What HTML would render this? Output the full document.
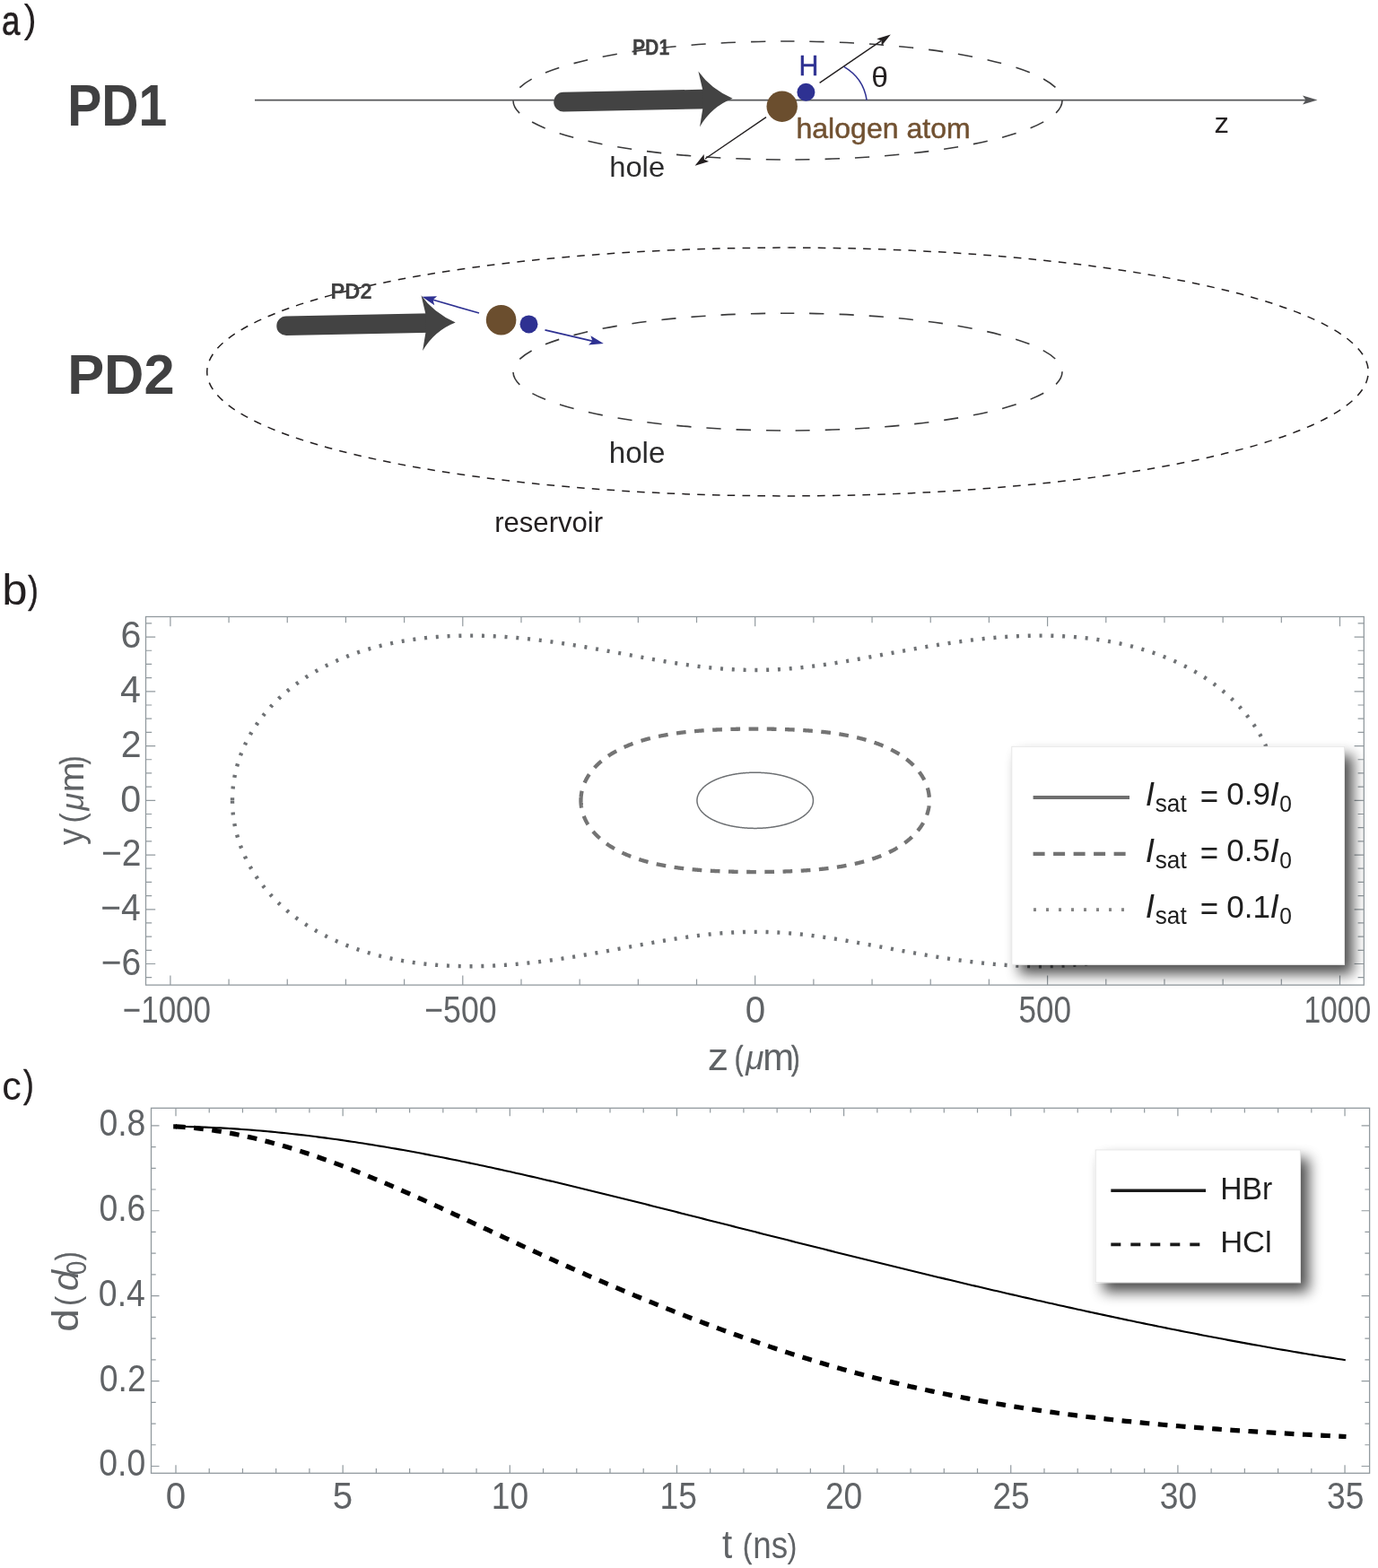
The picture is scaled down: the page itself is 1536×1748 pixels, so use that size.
<!DOCTYPE html>
<html><head><meta charset="utf-8"><title>Figure</title>
<style>html,body{margin:0;padding:0;background:#fff;}body{width:1536px;height:1748px;overflow:hidden;}svg{display:block;font-kerning:none;}text{font-kerning:none;}</style>
</head><body>
<svg width="1536" height="1748" viewBox="0 0 1536 1748" font-family="'Liberation Sans', Arial, sans-serif"><text transform="translate(2.1,39.18) scale(0.7838,1)" font-size="46.58" fill="#231f20" stroke="#231f20" stroke-width="0.7" stroke-linejoin="round">a</text>
<text transform="translate(26.58,35.63) scale(0.9651,1)" font-size="44.18" fill="#231f20">)</text>
<text transform="translate(75.14,139.6) scale(0.8807,1)" font-size="64.87" font-weight="bold" fill="#404041">PD1</text>
<text transform="translate(75.15,438.9) scale(0.9669,1)" font-size="63.51" font-weight="bold" fill="#404041">PD2</text>
<line x1="284" y1="111.6" x2="1458" y2="111.6" stroke="#555658" stroke-width="1.9"/>
<path d="M1468.50,111.40 L1452.00,116.40 L1455.50,111.40 L1452.00,106.40 Z" fill="#555658"/>
<path d="M878,46 A306,66 0 1 1 878,178 A306,66 0 1 1 878,46" fill="none" stroke="#3a3a3b" stroke-width="1.6" stroke-dasharray="16.2 16.9755" stroke-dashoffset="8.5"/>
<g transform="translate(0.00,0.00)" fill="#434343"><line x1="628" y1="113.6" x2="790" y2="110.4" stroke="#434343" stroke-width="21.6" stroke-linecap="round"/><path d="M783.1,99.4 L778.4,79.6 Q792,99 816.6,109.8 Q793,119 780,141.4 L783.3,121.3 Z"/></g>
<line x1="913.6" y1="92.3" x2="982" y2="45.7" stroke="#231f20" stroke-width="1.4"/>
<path d="M992.80,38.40 L982.69,51.09 L982.47,45.44 L977.29,43.16 Z" fill="#231f20"/>
<line x1="854" y1="130.6" x2="786" y2="177.0" stroke="#231f20" stroke-width="1.4"/>
<path d="M774.60,184.80 L784.69,172.09 L784.92,177.75 L790.11,180.02 Z" fill="#231f20"/>
<circle cx="871.7" cy="118.7" r="17.2" fill="#6b4e2e"/>
<circle cx="898.4" cy="102.8" r="10" fill="#2e3192"/>
<path d="M940.7,74.3 Q962.5,87 966.1,111.6" fill="none" stroke="#2e3192" stroke-width="1.5"/>
<text transform="translate(704.92,60.65) scale(0.8693,1)" font-size="24.44" font-weight="bold" fill="#404041" stroke="#404041" stroke-width="0.3" stroke-linejoin="round">PD1</text>
<text transform="translate(890.55,83.95) scale(0.9516,1)" font-size="31.85" fill="#2e3192" stroke="#2e3192" stroke-width="0.5" stroke-linejoin="round">H</text>
<text transform="translate(971.14,97.39) scale(1.0829,1)" font-size="31.02" fill="#231f20">θ</text>
<text transform="translate(887.38,153.7) scale(1.0446,1)" font-size="30.72" fill="#715131" stroke="#715131" stroke-width="0.45" stroke-linejoin="round">halogen atom</text>
<text transform="translate(1353.38,148) scale(1.0656,1)" font-size="30.90" fill="#231f20">z</text>
<text transform="translate(679.21,196.68) scale(1.0241,1)" font-size="31.97" fill="#2b2b2c">hole</text>
<path d="M878,276.1 A647,138.4 0 1 1 878,552.9 A647,138.4 0 1 1 878,276.1" fill="none" stroke="#231f20" stroke-width="1.5" stroke-dasharray="8.6 8.1713" stroke-dashoffset="-0.4"/>
<path d="M878,349.20000000000005 A306,65.4 0 1 1 878,480.0 A306,65.4 0 1 1 878,349.20000000000005" fill="none" stroke="#3a3a3b" stroke-width="1.6" stroke-dasharray="16.2 16.9493" stroke-dashoffset="8.7"/>
<g transform="translate(-308.90,249.60)" fill="#434343"><line x1="628" y1="113.6" x2="790" y2="110.4" stroke="#434343" stroke-width="21.6" stroke-linecap="round"/><path d="M783.1,99.4 L778.4,79.6 Q792,99 816.6,109.8 Q793,119 780,141.4 L783.3,121.3 Z"/></g>
<line x1="534" y1="349" x2="481" y2="333.8" stroke="#2e3192" stroke-width="1.7"/>
<path d="M470.30,330.80 L487.11,330.22 L482.60,334.34 L484.24,340.22 Z" fill="#2e3192"/>
<line x1="607.5" y1="367.8" x2="661" y2="380.4" stroke="#2e3192" stroke-width="1.7"/>
<path d="M672.80,383.10 L656.03,384.50 L660.34,380.17 L658.42,374.37 Z" fill="#2e3192"/>
<circle cx="558.6" cy="356.7" r="16.8" fill="#6b4e2e"/>
<circle cx="589.5" cy="361.4" r="10" fill="#2e3192"/>
<text transform="translate(368.4,332.8) scale(0.9642,1)" font-size="24.66" font-weight="bold" fill="#404041">PD2</text>
<text transform="translate(678.68,515.67) scale(1.0165,1)" font-size="32.65" fill="#2b2b2c">hole</text>
<text transform="translate(551.18,593) scale(1.0205,1)" font-size="30.48" fill="#231f20">reservoir</text>
<text transform="translate(2.19,674.33) scale(1.0717,1)" font-size="47.48" fill="#231f20">b</text>
<text transform="translate(31.29,671.8) scale(0.7961,1)" font-size="42.90" fill="#231f20" stroke="#231f20" stroke-width="0.6" stroke-linejoin="round">)</text>
<path d="M776.95,892.30 L776.96,892.05 L776.96,891.80 L776.97,891.55 L776.99,891.29 L777.00,891.04 L777.03,890.79 L777.05,890.54 L777.08,890.29 L777.12,890.04 L777.16,889.79 L777.20,889.54 L777.24,889.29 L777.29,889.04 L777.35,888.79 L777.41,888.54 L777.47,888.29 L777.53,888.04 L777.60,887.79 L777.68,887.54 L777.76,887.30 L777.84,887.05 L777.92,886.80 L778.01,886.55 L778.11,886.31 L778.20,886.06 L778.31,885.82 L778.41,885.57 L778.52,885.33 L778.64,885.08 L778.75,884.84 L778.87,884.60 L779.00,884.35 L779.13,884.11 L779.26,883.87 L779.40,883.63 L779.54,883.39 L779.68,883.15 L779.83,882.91 L779.98,882.67 L780.14,882.43 L780.30,882.20 L780.46,881.96 L780.63,881.73 L780.80,881.49 L780.98,881.26 L781.15,881.02 L781.34,880.79 L781.52,880.56 L781.71,880.33 L781.91,880.10 L782.10,879.87 L782.31,879.64 L782.51,879.41 L782.72,879.19 L782.93,878.96 L783.15,878.74 L783.37,878.51 L783.59,878.29 L783.82,878.07 L784.05,877.85 L784.28,877.63 L784.52,877.41 L784.76,877.19 L785.00,876.98 L785.25,876.76 L785.50,876.54 L785.76,876.33 L786.02,876.12 L786.28,875.91 L786.54,875.70 L786.81,875.49 L787.08,875.28 L787.36,875.07 L787.64,874.87 L787.92,874.66 L788.20,874.46 L788.49,874.26 L788.79,874.06 L789.08,873.86 L789.38,873.66 L789.68,873.46 L789.99,873.27 L790.30,873.07 L790.61,872.88 L790.92,872.69 L791.24,872.50 L791.56,872.31 L791.88,872.12 L792.21,871.93 L792.54,871.75 L792.88,871.56 L793.21,871.38 L793.55,871.20 L793.89,871.02 L794.24,870.84 L794.59,870.66 L794.94,870.49 L795.29,870.31 L795.65,870.14 L796.01,869.97 L796.37,869.80 L796.74,869.63 L797.10,869.47 L797.48,869.30 L797.85,869.14 L798.23,868.98 L798.60,868.81 L798.99,868.66 L799.37,868.50 L799.76,868.34 L800.15,868.19 L800.54,868.03 L800.93,867.88 L801.33,867.73 L801.73,867.58 L802.13,867.44 L802.54,867.29 L802.95,867.15 L803.36,867.01 L803.77,866.87 L804.18,866.73 L804.60,866.59 L805.02,866.45 L805.44,866.32 L805.86,866.19 L806.29,866.06 L806.72,865.93 L807.15,865.80 L807.58,865.67 L808.01,865.55 L808.45,865.43 L808.89,865.31 L809.33,865.19 L809.77,865.07 L810.21,864.96 L810.66,864.84 L811.11,864.73 L811.56,864.62 L812.01,864.51 L812.47,864.40 L812.92,864.30 L813.38,864.19 L813.84,864.09 L814.30,863.99 L814.76,863.89 L815.23,863.80 L815.69,863.70 L816.16,863.61 L816.63,863.52 L817.10,863.43 L817.57,863.34 L818.05,863.25 L818.52,863.17 L819.00,863.08 L819.48,863.00 L819.96,862.92 L820.44,862.85 L820.92,862.77 L821.40,862.70 L821.89,862.62 L822.37,862.55 L822.86,862.49 L823.35,862.42 L823.84,862.35 L824.33,862.29 L824.82,862.23 L825.31,862.17 L825.81,862.11 L826.30,862.06 L826.80,862.00 L827.29,861.95 L827.79,861.90 L828.29,861.85 L828.79,861.80 L829.29,861.76 L829.79,861.71 L830.29,861.67 L830.79,861.63 L831.29,861.59 L831.80,861.56 L832.30,861.52 L832.81,861.49 L833.31,861.46 L833.82,861.43 L834.32,861.40 L834.83,861.38 L835.34,861.35 L835.85,861.33 L836.35,861.31 L836.86,861.29 L837.37,861.28 L837.88,861.26 L838.39,861.25 L838.90,861.24 L839.41,861.23 L839.92,861.22 L840.43,861.22 L840.94,861.21 L841.45,861.21 L841.95,861.21 L842.46,861.21 L842.97,861.22 L843.48,861.22 L843.99,861.23 L844.50,861.24 L845.01,861.25 L845.52,861.26 L846.03,861.28 L846.54,861.29 L847.05,861.31 L847.55,861.33 L848.06,861.35 L848.57,861.38 L849.08,861.40 L849.58,861.43 L850.09,861.46 L850.59,861.49 L851.10,861.52 L851.60,861.56 L852.11,861.59 L852.61,861.63 L853.11,861.67 L853.61,861.71 L854.11,861.76 L854.61,861.80 L855.11,861.85 L855.61,861.90 L856.11,861.95 L856.60,862.00 L857.10,862.06 L857.59,862.11 L858.09,862.17 L858.58,862.23 L859.07,862.29 L859.56,862.35 L860.05,862.42 L860.54,862.49 L861.03,862.55 L861.51,862.62 L862.00,862.70 L862.48,862.77 L862.96,862.85 L863.44,862.92 L863.92,863.00 L864.40,863.08 L864.88,863.17 L865.35,863.25 L865.83,863.34 L866.30,863.43 L866.77,863.52 L867.24,863.61 L867.71,863.70 L868.17,863.80 L868.64,863.89 L869.10,863.99 L869.56,864.09 L870.02,864.19 L870.48,864.30 L870.93,864.40 L871.39,864.51 L871.84,864.62 L872.29,864.73 L872.74,864.84 L873.19,864.96 L873.63,865.07 L874.07,865.19 L874.51,865.31 L874.95,865.43 L875.39,865.55 L875.82,865.67 L876.25,865.80 L876.68,865.93 L877.11,866.06 L877.54,866.19 L877.96,866.32 L878.38,866.45 L878.80,866.59 L879.22,866.73 L879.63,866.87 L880.04,867.01 L880.45,867.15 L880.86,867.29 L881.27,867.44 L881.67,867.58 L882.07,867.73 L882.47,867.88 L882.86,868.03 L883.25,868.19 L883.64,868.34 L884.03,868.50 L884.41,868.66 L884.80,868.81 L885.17,868.98 L885.55,869.14 L885.92,869.30 L886.30,869.47 L886.66,869.63 L887.03,869.80 L887.39,869.97 L887.75,870.14 L888.11,870.31 L888.46,870.49 L888.81,870.66 L889.16,870.84 L889.51,871.02 L889.85,871.20 L890.19,871.38 L890.52,871.56 L890.86,871.75 L891.19,871.93 L891.52,872.12 L891.84,872.31 L892.16,872.50 L892.48,872.69 L892.79,872.88 L893.10,873.07 L893.41,873.27 L893.72,873.46 L894.02,873.66 L894.32,873.86 L894.61,874.06 L894.91,874.26 L895.20,874.46 L895.48,874.66 L895.76,874.87 L896.04,875.07 L896.32,875.28 L896.59,875.49 L896.86,875.70 L897.12,875.91 L897.38,876.12 L897.64,876.33 L897.90,876.54 L898.15,876.76 L898.40,876.98 L898.64,877.19 L898.88,877.41 L899.12,877.63 L899.35,877.85 L899.58,878.07 L899.81,878.29 L900.03,878.51 L900.25,878.74 L900.47,878.96 L900.68,879.19 L900.89,879.41 L901.09,879.64 L901.30,879.87 L901.49,880.10 L901.69,880.33 L901.88,880.56 L902.06,880.79 L902.25,881.02 L902.42,881.26 L902.60,881.49 L902.77,881.73 L902.94,881.96 L903.10,882.20 L903.26,882.43 L903.42,882.67 L903.57,882.91 L903.72,883.15 L903.86,883.39 L904.00,883.63 L904.14,883.87 L904.27,884.11 L904.40,884.35 L904.53,884.60 L904.65,884.84 L904.76,885.08 L904.88,885.33 L904.99,885.57 L905.09,885.82 L905.20,886.06 L905.29,886.31 L905.39,886.55 L905.48,886.80 L905.56,887.05 L905.64,887.30 L905.72,887.54 L905.80,887.79 L905.87,888.04 L905.93,888.29 L905.99,888.54 L906.05,888.79 L906.11,889.04 L906.16,889.29 L906.20,889.54 L906.24,889.79 L906.28,890.04 L906.32,890.29 L906.35,890.54 L906.37,890.79 L906.40,891.04 L906.41,891.29 L906.43,891.55 L906.44,891.80 L906.44,892.05 L906.45,892.30 L906.44,892.55 L906.44,892.80 L906.43,893.05 L906.41,893.31 L906.40,893.56 L906.37,893.81 L906.35,894.06 L906.32,894.31 L906.28,894.56 L906.24,894.81 L906.20,895.06 L906.16,895.31 L906.11,895.56 L906.05,895.81 L905.99,896.06 L905.93,896.31 L905.87,896.56 L905.80,896.81 L905.72,897.06 L905.64,897.30 L905.56,897.55 L905.48,897.80 L905.39,898.05 L905.29,898.29 L905.20,898.54 L905.09,898.78 L904.99,899.03 L904.88,899.27 L904.76,899.52 L904.65,899.76 L904.53,900.00 L904.40,900.25 L904.27,900.49 L904.14,900.73 L904.00,900.97 L903.86,901.21 L903.72,901.45 L903.57,901.69 L903.42,901.93 L903.26,902.17 L903.10,902.40 L902.94,902.64 L902.77,902.87 L902.60,903.11 L902.42,903.34 L902.25,903.58 L902.06,903.81 L901.88,904.04 L901.69,904.27 L901.49,904.50 L901.30,904.73 L901.09,904.96 L900.89,905.19 L900.68,905.41 L900.47,905.64 L900.25,905.86 L900.03,906.09 L899.81,906.31 L899.58,906.53 L899.35,906.75 L899.12,906.97 L898.88,907.19 L898.64,907.41 L898.40,907.62 L898.15,907.84 L897.90,908.06 L897.64,908.27 L897.38,908.48 L897.12,908.69 L896.86,908.90 L896.59,909.11 L896.32,909.32 L896.04,909.53 L895.76,909.73 L895.48,909.94 L895.20,910.14 L894.91,910.34 L894.61,910.54 L894.32,910.74 L894.02,910.94 L893.72,911.14 L893.41,911.33 L893.10,911.53 L892.79,911.72 L892.48,911.91 L892.16,912.10 L891.84,912.29 L891.52,912.48 L891.19,912.67 L890.86,912.85 L890.52,913.04 L890.19,913.22 L889.85,913.40 L889.51,913.58 L889.16,913.76 L888.81,913.94 L888.46,914.11 L888.11,914.29 L887.75,914.46 L887.39,914.63 L887.03,914.80 L886.66,914.97 L886.30,915.13 L885.92,915.30 L885.55,915.46 L885.17,915.62 L884.80,915.79 L884.41,915.94 L884.03,916.10 L883.64,916.26 L883.25,916.41 L882.86,916.57 L882.47,916.72 L882.07,916.87 L881.67,917.02 L881.27,917.16 L880.86,917.31 L880.45,917.45 L880.04,917.59 L879.63,917.73 L879.22,917.87 L878.80,918.01 L878.38,918.15 L877.96,918.28 L877.54,918.41 L877.11,918.54 L876.68,918.67 L876.25,918.80 L875.82,918.93 L875.39,919.05 L874.95,919.17 L874.51,919.29 L874.07,919.41 L873.63,919.53 L873.19,919.64 L872.74,919.76 L872.29,919.87 L871.84,919.98 L871.39,920.09 L870.93,920.20 L870.48,920.30 L870.02,920.41 L869.56,920.51 L869.10,920.61 L868.64,920.71 L868.17,920.80 L867.71,920.90 L867.24,920.99 L866.77,921.08 L866.30,921.17 L865.83,921.26 L865.35,921.35 L864.88,921.43 L864.40,921.52 L863.92,921.60 L863.44,921.68 L862.96,921.75 L862.48,921.83 L862.00,921.90 L861.51,921.98 L861.03,922.05 L860.54,922.11 L860.05,922.18 L859.56,922.25 L859.07,922.31 L858.58,922.37 L858.09,922.43 L857.59,922.49 L857.10,922.54 L856.60,922.60 L856.11,922.65 L855.61,922.70 L855.11,922.75 L854.61,922.80 L854.11,922.84 L853.61,922.89 L853.11,922.93 L852.61,922.97 L852.11,923.01 L851.60,923.04 L851.10,923.08 L850.59,923.11 L850.09,923.14 L849.58,923.17 L849.08,923.20 L848.57,923.22 L848.06,923.25 L847.55,923.27 L847.05,923.29 L846.54,923.31 L846.03,923.32 L845.52,923.34 L845.01,923.35 L844.50,923.36 L843.99,923.37 L843.48,923.38 L842.97,923.38 L842.46,923.39 L841.95,923.39 L841.45,923.39 L840.94,923.39 L840.43,923.38 L839.92,923.38 L839.41,923.37 L838.90,923.36 L838.39,923.35 L837.88,923.34 L837.37,923.32 L836.86,923.31 L836.35,923.29 L835.85,923.27 L835.34,923.25 L834.83,923.22 L834.32,923.20 L833.82,923.17 L833.31,923.14 L832.81,923.11 L832.30,923.08 L831.80,923.04 L831.29,923.01 L830.79,922.97 L830.29,922.93 L829.79,922.89 L829.29,922.84 L828.79,922.80 L828.29,922.75 L827.79,922.70 L827.29,922.65 L826.80,922.60 L826.30,922.54 L825.81,922.49 L825.31,922.43 L824.82,922.37 L824.33,922.31 L823.84,922.25 L823.35,922.18 L822.86,922.11 L822.37,922.05 L821.89,921.98 L821.40,921.90 L820.92,921.83 L820.44,921.75 L819.96,921.68 L819.48,921.60 L819.00,921.52 L818.52,921.43 L818.05,921.35 L817.57,921.26 L817.10,921.17 L816.63,921.08 L816.16,920.99 L815.69,920.90 L815.23,920.80 L814.76,920.71 L814.30,920.61 L813.84,920.51 L813.38,920.41 L812.92,920.30 L812.47,920.20 L812.01,920.09 L811.56,919.98 L811.11,919.87 L810.66,919.76 L810.21,919.64 L809.77,919.53 L809.33,919.41 L808.89,919.29 L808.45,919.17 L808.01,919.05 L807.58,918.93 L807.15,918.80 L806.72,918.67 L806.29,918.54 L805.86,918.41 L805.44,918.28 L805.02,918.15 L804.60,918.01 L804.18,917.87 L803.77,917.73 L803.36,917.59 L802.95,917.45 L802.54,917.31 L802.13,917.16 L801.73,917.02 L801.33,916.87 L800.93,916.72 L800.54,916.57 L800.15,916.41 L799.76,916.26 L799.37,916.10 L798.99,915.94 L798.60,915.79 L798.23,915.62 L797.85,915.46 L797.48,915.30 L797.10,915.13 L796.74,914.97 L796.37,914.80 L796.01,914.63 L795.65,914.46 L795.29,914.29 L794.94,914.11 L794.59,913.94 L794.24,913.76 L793.89,913.58 L793.55,913.40 L793.21,913.22 L792.88,913.04 L792.54,912.85 L792.21,912.67 L791.88,912.48 L791.56,912.29 L791.24,912.10 L790.92,911.91 L790.61,911.72 L790.30,911.53 L789.99,911.33 L789.68,911.14 L789.38,910.94 L789.08,910.74 L788.79,910.54 L788.49,910.34 L788.20,910.14 L787.92,909.94 L787.64,909.73 L787.36,909.53 L787.08,909.32 L786.81,909.11 L786.54,908.90 L786.28,908.69 L786.02,908.48 L785.76,908.27 L785.50,908.06 L785.25,907.84 L785.00,907.62 L784.76,907.41 L784.52,907.19 L784.28,906.97 L784.05,906.75 L783.82,906.53 L783.59,906.31 L783.37,906.09 L783.15,905.86 L782.93,905.64 L782.72,905.41 L782.51,905.19 L782.31,904.96 L782.10,904.73 L781.91,904.50 L781.71,904.27 L781.52,904.04 L781.34,903.81 L781.15,903.58 L780.98,903.34 L780.80,903.11 L780.63,902.87 L780.46,902.64 L780.30,902.40 L780.14,902.17 L779.98,901.93 L779.83,901.69 L779.68,901.45 L779.54,901.21 L779.40,900.97 L779.26,900.73 L779.13,900.49 L779.00,900.25 L778.87,900.00 L778.75,899.76 L778.64,899.52 L778.52,899.27 L778.41,899.03 L778.31,898.78 L778.20,898.54 L778.11,898.29 L778.01,898.05 L777.92,897.80 L777.84,897.55 L777.76,897.30 L777.68,897.06 L777.60,896.81 L777.53,896.56 L777.47,896.31 L777.41,896.06 L777.35,895.81 L777.29,895.56 L777.24,895.31 L777.20,895.06 L777.16,894.81 L777.12,894.56 L777.08,894.31 L777.05,894.06 L777.03,893.81 L777.00,893.56 L776.99,893.31 L776.97,893.05 L776.96,892.80 L776.96,892.55 L776.95,892.30 Z" fill="none" stroke="#6d7073" stroke-width="1.5"/>
<path d="M647.46,892.30 L647.47,891.92 L647.47,891.55 L647.48,891.17 L647.49,890.79 L647.50,890.42 L647.52,890.04 L647.54,889.66 L647.56,889.29 L647.59,888.91 L647.61,888.54 L647.65,888.16 L647.68,887.78 L647.72,887.41 L647.76,887.03 L647.80,886.66 L647.85,886.28 L647.90,885.91 L647.95,885.53 L648.01,885.16 L648.06,884.78 L648.13,884.41 L648.19,884.03 L648.26,883.66 L648.33,883.29 L648.40,882.91 L648.48,882.54 L648.56,882.17 L648.64,881.79 L648.72,881.42 L648.81,881.05 L648.90,880.68 L649.00,880.30 L649.10,879.93 L649.20,879.56 L649.30,879.19 L649.41,878.82 L649.52,878.45 L649.63,878.08 L649.74,877.71 L649.86,877.34 L649.98,876.98 L650.11,876.61 L650.23,876.24 L650.36,875.87 L650.50,875.51 L650.63,875.14 L650.77,874.78 L650.91,874.41 L651.06,874.05 L651.21,873.68 L651.36,873.32 L651.51,872.95 L651.67,872.59 L651.83,872.23 L651.99,871.87 L652.15,871.51 L652.32,871.15 L652.49,870.79 L652.67,870.43 L652.84,870.07 L653.02,869.71 L653.21,869.35 L653.39,869.00 L653.58,868.64 L653.77,868.28 L653.97,867.93 L654.16,867.57 L654.36,867.22 L654.57,866.87 L654.77,866.51 L654.98,866.16 L655.20,865.81 L655.41,865.46 L655.63,865.11 L655.85,864.76 L656.07,864.41 L656.30,864.07 L656.53,863.72 L656.76,863.37 L656.99,863.03 L657.23,862.69 L657.47,862.34 L657.72,862.00 L657.96,861.66 L658.21,861.32 L658.46,860.98 L658.72,860.64 L658.98,860.30 L659.24,859.96 L659.50,859.62 L659.76,859.29 L660.03,858.95 L660.31,858.62 L660.58,858.28 L660.86,857.95 L661.14,857.62 L661.42,857.29 L661.71,856.96 L661.99,856.63 L662.29,856.30 L662.58,855.97 L662.88,855.65 L663.18,855.32 L663.48,855.00 L663.78,854.68 L664.09,854.35 L664.40,854.03 L664.71,853.71 L665.03,853.39 L665.35,853.07 L665.67,852.76 L666.00,852.44 L666.32,852.13 L666.65,851.81 L666.98,851.50 L667.32,851.19 L667.66,850.87 L668.00,850.57 L668.34,850.26 L668.69,849.95 L669.03,849.64 L669.39,849.34 L669.74,849.03 L670.10,848.73 L670.46,848.43 L670.82,848.13 L671.18,847.83 L671.55,847.53 L671.92,847.23 L672.29,846.93 L672.67,846.64 L673.04,846.34 L673.42,846.05 L673.81,845.76 L674.19,845.47 L674.58,845.18 L674.97,844.89 L675.36,844.60 L675.76,844.32 L676.16,844.03 L676.56,843.75 L676.96,843.47 L677.37,843.18 L677.77,842.90 L678.19,842.63 L678.60,842.35 L679.01,842.07 L679.43,841.80 L679.85,841.52 L680.28,841.25 L680.70,840.98 L681.13,840.71 L681.56,840.44 L682.00,840.17 L682.43,839.91 L682.87,839.64 L683.31,839.38 L683.76,839.12 L684.20,838.86 L684.65,838.60 L685.10,838.34 L685.55,838.08 L686.01,837.83 L686.47,837.57 L686.93,837.32 L687.39,837.07 L687.85,836.82 L688.32,836.57 L688.79,836.32 L689.26,836.08 L689.74,835.83 L690.21,835.59 L690.69,835.35 L691.18,835.11 L691.66,834.87 L692.15,834.63 L692.63,834.39 L693.12,834.16 L693.62,833.92 L694.11,833.69 L694.61,833.46 L695.11,833.23 L695.61,833.00 L696.12,832.77 L696.62,832.55 L697.13,832.32 L697.64,832.10 L698.16,831.88 L698.67,831.66 L699.19,831.44 L699.71,831.22 L700.23,831.01 L700.76,830.79 L701.28,830.58 L701.81,830.37 L702.34,830.16 L702.88,829.95 L703.41,829.74 L703.95,829.54 L704.49,829.33 L705.03,829.13 L705.57,828.93 L706.12,828.73 L706.67,828.53 L707.22,828.33 L707.77,828.13 L708.32,827.94 L708.88,827.75 L709.44,827.56 L710.00,827.36 L710.56,827.18 L711.13,826.99 L711.69,826.80 L712.26,826.62 L712.83,826.43 L713.40,826.25 L713.98,826.07 L714.55,825.89 L715.13,825.72 L715.71,825.54 L716.30,825.36 L716.88,825.19 L717.47,825.02 L718.05,824.85 L718.64,824.68 L719.24,824.51 L719.83,824.34 L720.43,824.18 L721.02,824.02 L721.62,823.85 L722.22,823.69 L722.83,823.53 L723.43,823.38 L724.04,823.22 L724.65,823.06 L725.26,822.91 L725.87,822.76 L726.48,822.61 L727.10,822.46 L727.72,822.31 L728.34,822.16 L728.96,822.02 L729.58,821.87 L730.20,821.73 L730.83,821.59 L731.46,821.45 L732.09,821.31 L732.72,821.17 L733.35,821.04 L733.99,820.90 L734.62,820.77 L735.26,820.64 L735.90,820.51 L736.54,820.38 L737.18,820.25 L737.83,820.12 L738.48,820.00 L739.12,819.87 L739.77,819.75 L740.42,819.63 L741.08,819.51 L741.73,819.39 L742.39,819.27 L743.04,819.15 L743.70,819.04 L744.36,818.93 L745.02,818.81 L745.69,818.70 L746.35,818.59 L747.02,818.48 L747.68,818.37 L748.35,818.27 L749.02,818.16 L749.70,818.06 L750.37,817.96 L751.04,817.86 L751.72,817.76 L752.40,817.66 L753.08,817.56 L753.76,817.46 L754.44,817.37 L755.12,817.27 L755.81,817.18 L756.49,817.09 L757.18,817.00 L757.87,816.91 L758.56,816.82 L759.25,816.73 L759.94,816.65 L760.63,816.56 L761.33,816.48 L762.02,816.39 L762.72,816.31 L763.42,816.23 L764.12,816.15 L764.82,816.07 L765.52,816.00 L766.22,815.92 L766.93,815.85 L767.63,815.77 L768.34,815.70 L769.05,815.63 L769.76,815.56 L770.47,815.49 L771.18,815.42 L771.89,815.35 L772.60,815.28 L773.32,815.22 L774.03,815.15 L774.75,815.09 L775.47,815.02 L776.19,814.96 L776.90,814.90 L777.63,814.84 L778.35,814.78 L779.07,814.72 L779.79,814.67 L780.52,814.61 L781.24,814.56 L781.97,814.50 L782.70,814.45 L783.42,814.40 L784.15,814.34 L784.88,814.29 L785.61,814.24 L786.34,814.19 L787.08,814.15 L787.81,814.10 L788.54,814.05 L789.28,814.01 L790.02,813.96 L790.75,813.92 L791.49,813.88 L792.23,813.83 L792.97,813.79 L793.71,813.75 L794.45,813.71 L795.19,813.67 L795.93,813.63 L796.67,813.60 L797.42,813.56 L798.16,813.52 L798.90,813.49 L799.65,813.45 L800.40,813.42 L801.14,813.39 L801.89,813.36 L802.64,813.32 L803.39,813.29 L804.13,813.26 L804.88,813.23 L805.63,813.20 L806.38,813.18 L807.14,813.15 L807.89,813.12 L808.64,813.10 L809.39,813.07 L810.15,813.05 L810.90,813.02 L811.65,813.00 L812.41,812.98 L813.16,812.96 L813.92,812.93 L814.68,812.91 L815.43,812.89 L816.19,812.87 L816.95,812.85 L817.70,812.84 L818.46,812.82 L819.22,812.80 L819.98,812.79 L820.74,812.77 L821.50,812.75 L822.26,812.74 L823.02,812.73 L823.78,812.71 L824.54,812.70 L825.30,812.69 L826.06,812.68 L826.82,812.66 L827.58,812.65 L828.35,812.64 L829.11,812.63 L829.87,812.63 L830.63,812.62 L831.39,812.61 L832.16,812.60 L832.92,812.60 L833.68,812.59 L834.45,812.58 L835.21,812.58 L835.97,812.58 L836.74,812.57 L837.50,812.57 L838.26,812.57 L839.03,812.56 L839.79,812.56 L840.55,812.56 L841.32,812.56 L842.08,812.56 L842.85,812.56 L843.61,812.56 L844.37,812.56 L845.14,812.57 L845.90,812.57 L846.66,812.57 L847.43,812.58 L848.19,812.58 L848.95,812.58 L849.72,812.59 L850.48,812.60 L851.24,812.60 L852.01,812.61 L852.77,812.62 L853.53,812.63 L854.29,812.63 L855.05,812.64 L855.82,812.65 L856.58,812.66 L857.34,812.68 L858.10,812.69 L858.86,812.70 L859.62,812.71 L860.38,812.73 L861.14,812.74 L861.90,812.75 L862.66,812.77 L863.42,812.79 L864.18,812.80 L864.94,812.82 L865.70,812.84 L866.45,812.85 L867.21,812.87 L867.97,812.89 L868.72,812.91 L869.48,812.93 L870.24,812.96 L870.99,812.98 L871.75,813.00 L872.50,813.02 L873.25,813.05 L874.01,813.07 L874.76,813.10 L875.51,813.12 L876.26,813.15 L877.02,813.18 L877.77,813.20 L878.52,813.23 L879.27,813.26 L880.01,813.29 L880.76,813.32 L881.51,813.36 L882.26,813.39 L883.00,813.42 L883.75,813.45 L884.50,813.49 L885.24,813.52 L885.98,813.56 L886.73,813.60 L887.47,813.63 L888.21,813.67 L888.95,813.71 L889.69,813.75 L890.43,813.79 L891.17,813.83 L891.91,813.88 L892.65,813.92 L893.38,813.96 L894.12,814.01 L894.86,814.05 L895.59,814.10 L896.32,814.15 L897.06,814.19 L897.79,814.24 L898.52,814.29 L899.25,814.34 L899.98,814.40 L900.70,814.45 L901.43,814.50 L902.16,814.56 L902.88,814.61 L903.61,814.67 L904.33,814.72 L905.05,814.78 L905.77,814.84 L906.50,814.90 L907.21,814.96 L907.93,815.02 L908.65,815.09 L909.37,815.15 L910.08,815.22 L910.80,815.28 L911.51,815.35 L912.22,815.42 L912.93,815.49 L913.64,815.56 L914.35,815.63 L915.06,815.70 L915.77,815.77 L916.47,815.85 L917.18,815.92 L917.88,816.00 L918.58,816.07 L919.28,816.15 L919.98,816.23 L920.68,816.31 L921.38,816.39 L922.07,816.48 L922.77,816.56 L923.46,816.65 L924.15,816.73 L924.84,816.82 L925.53,816.91 L926.22,817.00 L926.91,817.09 L927.59,817.18 L928.28,817.27 L928.96,817.37 L929.64,817.46 L930.32,817.56 L931.00,817.66 L931.68,817.76 L932.36,817.86 L933.03,817.96 L933.70,818.06 L934.38,818.16 L935.05,818.27 L935.72,818.37 L936.38,818.48 L937.05,818.59 L937.71,818.70 L938.38,818.81 L939.04,818.93 L939.70,819.04 L940.36,819.15 L941.01,819.27 L941.67,819.39 L942.32,819.51 L942.98,819.63 L943.63,819.75 L944.28,819.87 L944.92,820.00 L945.57,820.12 L946.22,820.25 L946.86,820.38 L947.50,820.51 L948.14,820.64 L948.78,820.77 L949.41,820.90 L950.05,821.04 L950.68,821.17 L951.31,821.31 L951.94,821.45 L952.57,821.59 L953.20,821.73 L953.82,821.87 L954.44,822.02 L955.06,822.16 L955.68,822.31 L956.30,822.46 L956.92,822.61 L957.53,822.76 L958.14,822.91 L958.75,823.06 L959.36,823.22 L959.97,823.38 L960.57,823.53 L961.18,823.69 L961.78,823.85 L962.38,824.02 L962.97,824.18 L963.57,824.34 L964.16,824.51 L964.76,824.68 L965.35,824.85 L965.93,825.02 L966.52,825.19 L967.10,825.36 L967.69,825.54 L968.27,825.72 L968.85,825.89 L969.42,826.07 L970.00,826.25 L970.57,826.43 L971.14,826.62 L971.71,826.80 L972.27,826.99 L972.84,827.18 L973.40,827.36 L973.96,827.56 L974.52,827.75 L975.08,827.94 L975.63,828.13 L976.18,828.33 L976.73,828.53 L977.28,828.73 L977.83,828.93 L978.37,829.13 L978.91,829.33 L979.45,829.54 L979.99,829.74 L980.52,829.95 L981.06,830.16 L981.59,830.37 L982.12,830.58 L982.64,830.79 L983.17,831.01 L983.69,831.22 L984.21,831.44 L984.73,831.66 L985.24,831.88 L985.76,832.10 L986.27,832.32 L986.78,832.55 L987.28,832.77 L987.79,833.00 L988.29,833.23 L988.79,833.46 L989.29,833.69 L989.78,833.92 L990.28,834.16 L990.77,834.39 L991.25,834.63 L991.74,834.87 L992.22,835.11 L992.71,835.35 L993.19,835.59 L993.66,835.83 L994.14,836.08 L994.61,836.32 L995.08,836.57 L995.55,836.82 L996.01,837.07 L996.47,837.32 L996.93,837.57 L997.39,837.83 L997.85,838.08 L998.30,838.34 L998.75,838.60 L999.20,838.86 L999.64,839.12 L1000.09,839.38 L1000.53,839.64 L1000.97,839.91 L1001.40,840.17 L1001.84,840.44 L1002.27,840.71 L1002.70,840.98 L1003.12,841.25 L1003.55,841.52 L1003.97,841.80 L1004.39,842.07 L1004.80,842.35 L1005.21,842.63 L1005.63,842.90 L1006.03,843.18 L1006.44,843.47 L1006.84,843.75 L1007.24,844.03 L1007.64,844.32 L1008.04,844.60 L1008.43,844.89 L1008.82,845.18 L1009.21,845.47 L1009.59,845.76 L1009.98,846.05 L1010.36,846.34 L1010.73,846.64 L1011.11,846.93 L1011.48,847.23 L1011.85,847.53 L1012.22,847.83 L1012.58,848.13 L1012.94,848.43 L1013.30,848.73 L1013.66,849.03 L1014.01,849.34 L1014.37,849.64 L1014.71,849.95 L1015.06,850.26 L1015.40,850.57 L1015.74,850.87 L1016.08,851.19 L1016.42,851.50 L1016.75,851.81 L1017.08,852.13 L1017.40,852.44 L1017.73,852.76 L1018.05,853.07 L1018.37,853.39 L1018.69,853.71 L1019.00,854.03 L1019.31,854.35 L1019.62,854.68 L1019.92,855.00 L1020.22,855.32 L1020.52,855.65 L1020.82,855.97 L1021.11,856.30 L1021.41,856.63 L1021.69,856.96 L1021.98,857.29 L1022.26,857.62 L1022.54,857.95 L1022.82,858.28 L1023.09,858.62 L1023.37,858.95 L1023.64,859.29 L1023.90,859.62 L1024.16,859.96 L1024.42,860.30 L1024.68,860.64 L1024.94,860.98 L1025.19,861.32 L1025.44,861.66 L1025.68,862.00 L1025.93,862.34 L1026.17,862.69 L1026.41,863.03 L1026.64,863.37 L1026.87,863.72 L1027.10,864.07 L1027.33,864.41 L1027.55,864.76 L1027.77,865.11 L1027.99,865.46 L1028.20,865.81 L1028.42,866.16 L1028.63,866.51 L1028.83,866.87 L1029.04,867.22 L1029.24,867.57 L1029.43,867.93 L1029.63,868.28 L1029.82,868.64 L1030.01,869.00 L1030.19,869.35 L1030.38,869.71 L1030.56,870.07 L1030.73,870.43 L1030.91,870.79 L1031.08,871.15 L1031.25,871.51 L1031.41,871.87 L1031.57,872.23 L1031.73,872.59 L1031.89,872.95 L1032.04,873.32 L1032.19,873.68 L1032.34,874.05 L1032.49,874.41 L1032.63,874.78 L1032.77,875.14 L1032.90,875.51 L1033.04,875.87 L1033.17,876.24 L1033.29,876.61 L1033.42,876.98 L1033.54,877.34 L1033.66,877.71 L1033.77,878.08 L1033.88,878.45 L1033.99,878.82 L1034.10,879.19 L1034.20,879.56 L1034.30,879.93 L1034.40,880.30 L1034.50,880.68 L1034.59,881.05 L1034.68,881.42 L1034.76,881.79 L1034.84,882.17 L1034.92,882.54 L1035.00,882.91 L1035.07,883.29 L1035.14,883.66 L1035.21,884.03 L1035.27,884.41 L1035.34,884.78 L1035.39,885.16 L1035.45,885.53 L1035.50,885.91 L1035.55,886.28 L1035.60,886.66 L1035.64,887.03 L1035.68,887.41 L1035.72,887.78 L1035.75,888.16 L1035.79,888.54 L1035.81,888.91 L1035.84,889.29 L1035.86,889.66 L1035.88,890.04 L1035.90,890.42 L1035.91,890.79 L1035.92,891.17 L1035.93,891.55 L1035.93,891.92 L1035.94,892.30 L1035.93,892.68 L1035.93,893.05 L1035.92,893.43 L1035.91,893.81 L1035.90,894.18 L1035.88,894.56 L1035.86,894.94 L1035.84,895.31 L1035.81,895.69 L1035.79,896.06 L1035.75,896.44 L1035.72,896.82 L1035.68,897.19 L1035.64,897.57 L1035.60,897.94 L1035.55,898.32 L1035.50,898.69 L1035.45,899.07 L1035.39,899.44 L1035.34,899.82 L1035.27,900.19 L1035.21,900.57 L1035.14,900.94 L1035.07,901.31 L1035.00,901.69 L1034.92,902.06 L1034.84,902.43 L1034.76,902.81 L1034.68,903.18 L1034.59,903.55 L1034.50,903.92 L1034.40,904.30 L1034.30,904.67 L1034.20,905.04 L1034.10,905.41 L1033.99,905.78 L1033.88,906.15 L1033.77,906.52 L1033.66,906.89 L1033.54,907.26 L1033.42,907.62 L1033.29,907.99 L1033.17,908.36 L1033.04,908.73 L1032.90,909.09 L1032.77,909.46 L1032.63,909.82 L1032.49,910.19 L1032.34,910.55 L1032.19,910.92 L1032.04,911.28 L1031.89,911.65 L1031.73,912.01 L1031.57,912.37 L1031.41,912.73 L1031.25,913.09 L1031.08,913.45 L1030.91,913.81 L1030.73,914.17 L1030.56,914.53 L1030.38,914.89 L1030.19,915.25 L1030.01,915.60 L1029.82,915.96 L1029.63,916.32 L1029.43,916.67 L1029.24,917.03 L1029.04,917.38 L1028.83,917.73 L1028.63,918.09 L1028.42,918.44 L1028.20,918.79 L1027.99,919.14 L1027.77,919.49 L1027.55,919.84 L1027.33,920.19 L1027.10,920.53 L1026.87,920.88 L1026.64,921.23 L1026.41,921.57 L1026.17,921.91 L1025.93,922.26 L1025.68,922.60 L1025.44,922.94 L1025.19,923.28 L1024.94,923.62 L1024.68,923.96 L1024.42,924.30 L1024.16,924.64 L1023.90,924.98 L1023.64,925.31 L1023.37,925.65 L1023.09,925.98 L1022.82,926.32 L1022.54,926.65 L1022.26,926.98 L1021.98,927.31 L1021.69,927.64 L1021.41,927.97 L1021.11,928.30 L1020.82,928.63 L1020.52,928.95 L1020.22,929.28 L1019.92,929.60 L1019.62,929.92 L1019.31,930.25 L1019.00,930.57 L1018.69,930.89 L1018.37,931.21 L1018.05,931.53 L1017.73,931.84 L1017.40,932.16 L1017.08,932.47 L1016.75,932.79 L1016.42,933.10 L1016.08,933.41 L1015.74,933.73 L1015.40,934.03 L1015.06,934.34 L1014.71,934.65 L1014.37,934.96 L1014.01,935.26 L1013.66,935.57 L1013.30,935.87 L1012.94,936.17 L1012.58,936.47 L1012.22,936.77 L1011.85,937.07 L1011.48,937.37 L1011.11,937.67 L1010.73,937.96 L1010.36,938.26 L1009.98,938.55 L1009.59,938.84 L1009.21,939.13 L1008.82,939.42 L1008.43,939.71 L1008.04,940.00 L1007.64,940.28 L1007.24,940.57 L1006.84,940.85 L1006.44,941.13 L1006.03,941.42 L1005.63,941.70 L1005.21,941.97 L1004.80,942.25 L1004.39,942.53 L1003.97,942.80 L1003.55,943.08 L1003.12,943.35 L1002.70,943.62 L1002.27,943.89 L1001.84,944.16 L1001.40,944.43 L1000.97,944.69 L1000.53,944.96 L1000.09,945.22 L999.64,945.48 L999.20,945.74 L998.75,946.00 L998.30,946.26 L997.85,946.52 L997.39,946.77 L996.93,947.03 L996.47,947.28 L996.01,947.53 L995.55,947.78 L995.08,948.03 L994.61,948.28 L994.14,948.52 L993.66,948.77 L993.19,949.01 L992.71,949.25 L992.22,949.49 L991.74,949.73 L991.25,949.97 L990.77,950.21 L990.28,950.44 L989.78,950.68 L989.29,950.91 L988.79,951.14 L988.29,951.37 L987.79,951.60 L987.28,951.83 L986.78,952.05 L986.27,952.28 L985.76,952.50 L985.24,952.72 L984.73,952.94 L984.21,953.16 L983.69,953.38 L983.17,953.59 L982.64,953.81 L982.12,954.02 L981.59,954.23 L981.06,954.44 L980.52,954.65 L979.99,954.86 L979.45,955.06 L978.91,955.27 L978.37,955.47 L977.83,955.67 L977.28,955.87 L976.73,956.07 L976.18,956.27 L975.63,956.47 L975.08,956.66 L974.52,956.85 L973.96,957.04 L973.40,957.24 L972.84,957.42 L972.27,957.61 L971.71,957.80 L971.14,957.98 L970.57,958.17 L970.00,958.35 L969.42,958.53 L968.85,958.71 L968.27,958.88 L967.69,959.06 L967.10,959.24 L966.52,959.41 L965.93,959.58 L965.35,959.75 L964.76,959.92 L964.16,960.09 L963.57,960.26 L962.97,960.42 L962.38,960.58 L961.78,960.75 L961.18,960.91 L960.57,961.07 L959.97,961.22 L959.36,961.38 L958.75,961.54 L958.14,961.69 L957.53,961.84 L956.92,961.99 L956.30,962.14 L955.68,962.29 L955.06,962.44 L954.44,962.58 L953.82,962.73 L953.20,962.87 L952.57,963.01 L951.94,963.15 L951.31,963.29 L950.68,963.43 L950.05,963.56 L949.41,963.70 L948.78,963.83 L948.14,963.96 L947.50,964.09 L946.86,964.22 L946.22,964.35 L945.57,964.48 L944.92,964.60 L944.28,964.73 L943.63,964.85 L942.98,964.97 L942.32,965.09 L941.67,965.21 L941.01,965.33 L940.36,965.45 L939.70,965.56 L939.04,965.67 L938.38,965.79 L937.71,965.90 L937.05,966.01 L936.38,966.12 L935.72,966.23 L935.05,966.33 L934.38,966.44 L933.70,966.54 L933.03,966.64 L932.36,966.74 L931.68,966.84 L931.00,966.94 L930.32,967.04 L929.64,967.14 L928.96,967.23 L928.28,967.33 L927.59,967.42 L926.91,967.51 L926.22,967.60 L925.53,967.69 L924.84,967.78 L924.15,967.87 L923.46,967.95 L922.77,968.04 L922.07,968.12 L921.38,968.21 L920.68,968.29 L919.98,968.37 L919.28,968.45 L918.58,968.53 L917.88,968.60 L917.18,968.68 L916.47,968.75 L915.77,968.83 L915.06,968.90 L914.35,968.97 L913.64,969.04 L912.93,969.11 L912.22,969.18 L911.51,969.25 L910.80,969.32 L910.08,969.38 L909.37,969.45 L908.65,969.51 L907.93,969.58 L907.21,969.64 L906.50,969.70 L905.77,969.76 L905.05,969.82 L904.33,969.88 L903.61,969.93 L902.88,969.99 L902.16,970.04 L901.43,970.10 L900.70,970.15 L899.98,970.20 L899.25,970.26 L898.52,970.31 L897.79,970.36 L897.06,970.41 L896.32,970.45 L895.59,970.50 L894.86,970.55 L894.12,970.59 L893.38,970.64 L892.65,970.68 L891.91,970.72 L891.17,970.77 L890.43,970.81 L889.69,970.85 L888.95,970.89 L888.21,970.93 L887.47,970.97 L886.73,971.00 L885.98,971.04 L885.24,971.08 L884.50,971.11 L883.75,971.15 L883.00,971.18 L882.26,971.21 L881.51,971.24 L880.76,971.28 L880.01,971.31 L879.27,971.34 L878.52,971.37 L877.77,971.40 L877.02,971.42 L876.26,971.45 L875.51,971.48 L874.76,971.50 L874.01,971.53 L873.25,971.55 L872.50,971.58 L871.75,971.60 L870.99,971.62 L870.24,971.64 L869.48,971.67 L868.72,971.69 L867.97,971.71 L867.21,971.73 L866.45,971.75 L865.70,971.76 L864.94,971.78 L864.18,971.80 L863.42,971.81 L862.66,971.83 L861.90,971.85 L861.14,971.86 L860.38,971.87 L859.62,971.89 L858.86,971.90 L858.10,971.91 L857.34,971.92 L856.58,971.94 L855.82,971.95 L855.05,971.96 L854.29,971.97 L853.53,971.97 L852.77,971.98 L852.01,971.99 L851.24,972.00 L850.48,972.00 L849.72,972.01 L848.95,972.02 L848.19,972.02 L847.43,972.02 L846.66,972.03 L845.90,972.03 L845.14,972.03 L844.37,972.04 L843.61,972.04 L842.85,972.04 L842.08,972.04 L841.32,972.04 L840.55,972.04 L839.79,972.04 L839.03,972.04 L838.26,972.03 L837.50,972.03 L836.74,972.03 L835.97,972.02 L835.21,972.02 L834.45,972.02 L833.68,972.01 L832.92,972.00 L832.16,972.00 L831.39,971.99 L830.63,971.98 L829.87,971.97 L829.11,971.97 L828.35,971.96 L827.58,971.95 L826.82,971.94 L826.06,971.92 L825.30,971.91 L824.54,971.90 L823.78,971.89 L823.02,971.87 L822.26,971.86 L821.50,971.85 L820.74,971.83 L819.98,971.81 L819.22,971.80 L818.46,971.78 L817.70,971.76 L816.95,971.75 L816.19,971.73 L815.43,971.71 L814.68,971.69 L813.92,971.67 L813.16,971.64 L812.41,971.62 L811.65,971.60 L810.90,971.58 L810.15,971.55 L809.39,971.53 L808.64,971.50 L807.89,971.48 L807.14,971.45 L806.38,971.42 L805.63,971.40 L804.88,971.37 L804.13,971.34 L803.39,971.31 L802.64,971.28 L801.89,971.24 L801.14,971.21 L800.40,971.18 L799.65,971.15 L798.90,971.11 L798.16,971.08 L797.42,971.04 L796.67,971.00 L795.93,970.97 L795.19,970.93 L794.45,970.89 L793.71,970.85 L792.97,970.81 L792.23,970.77 L791.49,970.72 L790.75,970.68 L790.02,970.64 L789.28,970.59 L788.54,970.55 L787.81,970.50 L787.08,970.45 L786.34,970.41 L785.61,970.36 L784.88,970.31 L784.15,970.26 L783.42,970.20 L782.70,970.15 L781.97,970.10 L781.24,970.04 L780.52,969.99 L779.79,969.93 L779.07,969.88 L778.35,969.82 L777.63,969.76 L776.90,969.70 L776.19,969.64 L775.47,969.58 L774.75,969.51 L774.03,969.45 L773.32,969.38 L772.60,969.32 L771.89,969.25 L771.18,969.18 L770.47,969.11 L769.76,969.04 L769.05,968.97 L768.34,968.90 L767.63,968.83 L766.93,968.75 L766.22,968.68 L765.52,968.60 L764.82,968.53 L764.12,968.45 L763.42,968.37 L762.72,968.29 L762.02,968.21 L761.33,968.12 L760.63,968.04 L759.94,967.95 L759.25,967.87 L758.56,967.78 L757.87,967.69 L757.18,967.60 L756.49,967.51 L755.81,967.42 L755.12,967.33 L754.44,967.23 L753.76,967.14 L753.08,967.04 L752.40,966.94 L751.72,966.84 L751.04,966.74 L750.37,966.64 L749.70,966.54 L749.02,966.44 L748.35,966.33 L747.68,966.23 L747.02,966.12 L746.35,966.01 L745.69,965.90 L745.02,965.79 L744.36,965.67 L743.70,965.56 L743.04,965.45 L742.39,965.33 L741.73,965.21 L741.08,965.09 L740.42,964.97 L739.77,964.85 L739.12,964.73 L738.48,964.60 L737.83,964.48 L737.18,964.35 L736.54,964.22 L735.90,964.09 L735.26,963.96 L734.62,963.83 L733.99,963.70 L733.35,963.56 L732.72,963.43 L732.09,963.29 L731.46,963.15 L730.83,963.01 L730.20,962.87 L729.58,962.73 L728.96,962.58 L728.34,962.44 L727.72,962.29 L727.10,962.14 L726.48,961.99 L725.87,961.84 L725.26,961.69 L724.65,961.54 L724.04,961.38 L723.43,961.22 L722.83,961.07 L722.22,960.91 L721.62,960.75 L721.02,960.58 L720.43,960.42 L719.83,960.26 L719.24,960.09 L718.64,959.92 L718.05,959.75 L717.47,959.58 L716.88,959.41 L716.30,959.24 L715.71,959.06 L715.13,958.88 L714.55,958.71 L713.98,958.53 L713.40,958.35 L712.83,958.17 L712.26,957.98 L711.69,957.80 L711.13,957.61 L710.56,957.42 L710.00,957.24 L709.44,957.04 L708.88,956.85 L708.32,956.66 L707.77,956.47 L707.22,956.27 L706.67,956.07 L706.12,955.87 L705.57,955.67 L705.03,955.47 L704.49,955.27 L703.95,955.06 L703.41,954.86 L702.88,954.65 L702.34,954.44 L701.81,954.23 L701.28,954.02 L700.76,953.81 L700.23,953.59 L699.71,953.38 L699.19,953.16 L698.67,952.94 L698.16,952.72 L697.64,952.50 L697.13,952.28 L696.62,952.05 L696.12,951.83 L695.61,951.60 L695.11,951.37 L694.61,951.14 L694.11,950.91 L693.62,950.68 L693.12,950.44 L692.63,950.21 L692.15,949.97 L691.66,949.73 L691.18,949.49 L690.69,949.25 L690.21,949.01 L689.74,948.77 L689.26,948.52 L688.79,948.28 L688.32,948.03 L687.85,947.78 L687.39,947.53 L686.93,947.28 L686.47,947.03 L686.01,946.77 L685.55,946.52 L685.10,946.26 L684.65,946.00 L684.20,945.74 L683.76,945.48 L683.31,945.22 L682.87,944.96 L682.43,944.69 L682.00,944.43 L681.56,944.16 L681.13,943.89 L680.70,943.62 L680.28,943.35 L679.85,943.08 L679.43,942.80 L679.01,942.53 L678.60,942.25 L678.19,941.97 L677.77,941.70 L677.37,941.42 L676.96,941.13 L676.56,940.85 L676.16,940.57 L675.76,940.28 L675.36,940.00 L674.97,939.71 L674.58,939.42 L674.19,939.13 L673.81,938.84 L673.42,938.55 L673.04,938.26 L672.67,937.96 L672.29,937.67 L671.92,937.37 L671.55,937.07 L671.18,936.77 L670.82,936.47 L670.46,936.17 L670.10,935.87 L669.74,935.57 L669.39,935.26 L669.03,934.96 L668.69,934.65 L668.34,934.34 L668.00,934.03 L667.66,933.73 L667.32,933.41 L666.98,933.10 L666.65,932.79 L666.32,932.47 L666.00,932.16 L665.67,931.84 L665.35,931.53 L665.03,931.21 L664.71,930.89 L664.40,930.57 L664.09,930.25 L663.78,929.92 L663.48,929.60 L663.18,929.28 L662.88,928.95 L662.58,928.63 L662.29,928.30 L661.99,927.97 L661.71,927.64 L661.42,927.31 L661.14,926.98 L660.86,926.65 L660.58,926.32 L660.31,925.98 L660.03,925.65 L659.76,925.31 L659.50,924.98 L659.24,924.64 L658.98,924.30 L658.72,923.96 L658.46,923.62 L658.21,923.28 L657.96,922.94 L657.72,922.60 L657.47,922.26 L657.23,921.91 L656.99,921.57 L656.76,921.23 L656.53,920.88 L656.30,920.53 L656.07,920.19 L655.85,919.84 L655.63,919.49 L655.41,919.14 L655.20,918.79 L654.98,918.44 L654.77,918.09 L654.57,917.73 L654.36,917.38 L654.16,917.03 L653.97,916.67 L653.77,916.32 L653.58,915.96 L653.39,915.60 L653.21,915.25 L653.02,914.89 L652.84,914.53 L652.67,914.17 L652.49,913.81 L652.32,913.45 L652.15,913.09 L651.99,912.73 L651.83,912.37 L651.67,912.01 L651.51,911.65 L651.36,911.28 L651.21,910.92 L651.06,910.55 L650.91,910.19 L650.77,909.82 L650.63,909.46 L650.50,909.09 L650.36,908.73 L650.23,908.36 L650.11,907.99 L649.98,907.62 L649.86,907.26 L649.74,906.89 L649.63,906.52 L649.52,906.15 L649.41,905.78 L649.30,905.41 L649.20,905.04 L649.10,904.67 L649.00,904.30 L648.90,903.92 L648.81,903.55 L648.72,903.18 L648.64,902.81 L648.56,902.43 L648.48,902.06 L648.40,901.69 L648.33,901.31 L648.26,900.94 L648.19,900.57 L648.13,900.19 L648.06,899.82 L648.01,899.44 L647.95,899.07 L647.90,898.69 L647.85,898.32 L647.80,897.94 L647.76,897.57 L647.72,897.19 L647.68,896.82 L647.65,896.44 L647.61,896.06 L647.59,895.69 L647.56,895.31 L647.54,894.94 L647.52,894.56 L647.50,894.18 L647.49,893.81 L647.48,893.43 L647.47,893.05 L647.47,892.68 L647.46,892.30 Z" fill="none" stroke="#747474" stroke-width="4.3" stroke-dasharray="10.7 9.5"/>
<path d="M258.99,892.30 L258.99,891.74 L259.00,891.17 L259.00,890.61 L259.01,890.04 L259.02,889.48 L259.03,888.91 L259.05,888.35 L259.06,887.78 L259.08,887.22 L259.10,886.66 L259.13,886.09 L259.15,885.53 L259.18,884.96 L259.21,884.40 L259.24,883.83 L259.28,883.27 L259.32,882.71 L259.36,882.14 L259.40,881.58 L259.44,881.02 L259.49,880.45 L259.54,879.89 L259.59,879.33 L259.64,878.76 L259.69,878.20 L259.75,877.64 L259.81,877.07 L259.87,876.51 L259.94,875.95 L260.00,875.39 L260.07,874.82 L260.14,874.26 L260.22,873.70 L260.29,873.14 L260.37,872.58 L260.45,872.02 L260.53,871.46 L260.61,870.89 L260.70,870.33 L260.79,869.77 L260.88,869.21 L260.97,868.65 L261.07,868.09 L261.17,867.53 L261.27,866.97 L261.37,866.41 L261.47,865.86 L261.58,865.30 L261.69,864.74 L261.80,864.18 L261.91,863.62 L262.03,863.06 L262.15,862.51 L262.27,861.95 L262.39,861.39 L262.51,860.84 L262.64,860.28 L262.77,859.72 L262.90,859.17 L263.03,858.61 L263.17,858.06 L263.31,857.50 L263.45,856.95 L263.59,856.39 L263.74,855.84 L263.88,855.29 L264.03,854.73 L264.18,854.18 L264.34,853.63 L264.49,853.08 L264.65,852.52 L264.81,851.97 L264.97,851.42 L265.14,850.87 L265.31,850.32 L265.47,849.77 L265.65,849.22 L265.82,848.67 L266.00,848.12 L266.17,847.57 L266.35,847.03 L266.54,846.48 L266.72,845.93 L266.91,845.38 L267.10,844.84 L267.29,844.29 L267.48,843.75 L267.68,843.20 L267.88,842.66 L268.08,842.11 L268.28,841.57 L268.48,841.03 L268.69,840.48 L268.90,839.94 L269.11,839.40 L269.33,838.86 L269.54,838.32 L269.76,837.78 L269.98,837.24 L270.20,836.70 L270.43,836.16 L270.65,835.62 L270.88,835.08 L271.11,834.55 L271.35,834.01 L271.58,833.47 L271.82,832.94 L272.06,832.40 L272.30,831.87 L272.55,831.33 L272.79,830.80 L273.04,830.27 L273.29,829.74 L273.55,829.20 L273.80,828.67 L274.06,828.14 L274.32,827.61 L274.58,827.08 L274.84,826.55 L275.11,826.03 L275.38,825.50 L275.65,824.97 L275.92,824.44 L276.20,823.92 L276.48,823.39 L276.76,822.87 L277.04,822.35 L277.32,821.82 L277.61,821.30 L277.89,820.78 L278.18,820.26 L278.48,819.74 L278.77,819.22 L279.07,818.70 L279.37,818.18 L279.67,817.66 L279.97,817.14 L280.28,816.63 L280.59,816.11 L280.90,815.60 L281.21,815.08 L281.52,814.57 L281.84,814.05 L282.16,813.54 L282.48,813.03 L282.80,812.52 L283.13,812.01 L283.45,811.50 L283.78,810.99 L284.11,810.48 L284.45,809.98 L284.78,809.47 L285.12,808.96 L285.46,808.46 L285.80,807.95 L286.15,807.45 L286.49,806.95 L286.84,806.45 L287.19,805.95 L287.55,805.45 L287.90,804.95 L288.26,804.45 L288.62,803.95 L288.98,803.45 L289.34,802.96 L289.71,802.46 L290.08,801.97 L290.45,801.47 L290.82,800.98 L291.19,800.49 L291.57,800.00 L291.95,799.51 L292.33,799.02 L292.71,798.53 L293.10,798.04 L293.48,797.56 L293.87,797.07 L294.26,796.58 L294.66,796.10 L295.05,795.62 L295.45,795.13 L295.85,794.65 L296.25,794.17 L296.65,793.69 L297.06,793.21 L297.47,792.74 L297.88,792.26 L298.29,791.78 L298.71,791.31 L299.12,790.83 L299.54,790.36 L299.96,789.89 L300.38,789.42 L300.81,788.95 L301.24,788.48 L301.66,788.01 L302.10,787.54 L302.53,787.08 L302.96,786.61 L303.40,786.15 L303.84,785.68 L304.28,785.22 L304.73,784.76 L305.17,784.30 L305.62,783.84 L306.07,783.38 L306.52,782.92 L306.98,782.47 L307.43,782.01 L307.89,781.56 L308.35,781.10 L308.81,780.65 L309.28,780.20 L309.74,779.75 L310.21,779.30 L310.68,778.85 L311.15,778.40 L311.63,777.96 L312.10,777.51 L312.58,777.07 L313.06,776.63 L313.55,776.18 L314.03,775.74 L314.52,775.30 L315.01,774.87 L315.50,774.43 L315.99,773.99 L316.48,773.56 L316.98,773.12 L317.48,772.69 L317.98,772.26 L318.48,771.83 L318.99,771.40 L319.50,770.97 L320.01,770.54 L320.52,770.11 L321.03,769.69 L321.54,769.27 L322.06,768.84 L322.58,768.42 L323.10,768.00 L323.62,767.58 L324.15,767.16 L324.68,766.75 L325.21,766.33 L325.74,765.92 L326.27,765.50 L326.80,765.09 L327.34,764.68 L327.88,764.27 L328.42,763.86 L328.96,763.45 L329.51,763.05 L330.06,762.64 L330.61,762.24 L331.16,761.84 L331.71,761.44 L332.26,761.04 L332.82,760.64 L333.38,760.24 L333.94,759.84 L334.50,759.45 L335.07,759.05 L335.63,758.66 L336.20,758.27 L336.77,757.88 L337.35,757.49 L337.92,757.10 L338.50,756.72 L339.07,756.33 L339.65,755.95 L340.24,755.57 L340.82,755.18 L341.41,754.81 L341.99,754.43 L342.58,754.05 L343.18,753.67 L343.77,753.30 L344.37,752.93 L344.96,752.55 L345.56,752.18 L346.16,751.81 L346.77,751.45 L347.37,751.08 L347.98,750.71 L348.59,750.35 L349.20,749.99 L349.81,749.63 L350.43,749.27 L351.04,748.91 L351.66,748.55 L352.28,748.20 L352.91,747.84 L353.53,747.49 L354.16,747.14 L354.78,746.79 L355.41,746.44 L356.05,746.09 L356.68,745.74 L357.31,745.40 L357.95,745.06 L358.59,744.71 L359.23,744.37 L359.87,744.03 L360.52,743.70 L361.17,743.36 L361.81,743.03 L362.47,742.69 L363.12,742.36 L363.77,742.03 L364.43,741.70 L365.09,741.37 L365.74,741.05 L366.41,740.72 L367.07,740.40 L367.73,740.08 L368.40,739.76 L369.07,739.44 L369.74,739.12 L370.41,738.81 L371.09,738.49 L371.76,738.18 L372.44,737.87 L373.12,737.56 L373.80,737.25 L374.49,736.94 L375.17,736.64 L375.86,736.33 L376.55,736.03 L377.24,735.73 L377.93,735.43 L378.62,735.13 L379.32,734.83 L380.02,734.54 L380.72,734.24 L381.42,733.95 L382.12,733.66 L382.82,733.37 L383.53,733.09 L384.24,732.80 L384.95,732.52 L385.66,732.23 L386.37,731.95 L387.09,731.67 L387.81,731.39 L388.53,731.12 L389.25,730.84 L389.97,730.57 L390.69,730.30 L391.42,730.03 L392.15,729.76 L392.88,729.49 L393.61,729.23 L394.34,728.96 L395.07,728.70 L395.81,728.44 L396.55,728.18 L397.29,727.92 L398.03,727.67 L398.77,727.41 L399.52,727.16 L400.26,726.91 L401.01,726.66 L401.76,726.41 L402.51,726.16 L403.27,725.92 L404.02,725.68 L404.78,725.43 L405.54,725.19 L406.30,724.96 L407.06,724.72 L407.82,724.48 L408.59,724.25 L409.35,724.02 L410.12,723.79 L410.89,723.56 L411.66,723.33 L412.44,723.11 L413.21,722.89 L413.99,722.66 L414.77,722.44 L415.55,722.22 L416.33,722.01 L417.11,721.79 L417.90,721.58 L418.68,721.37 L419.47,721.16 L420.26,720.95 L421.05,720.74 L421.85,720.54 L422.64,720.33 L423.44,720.13 L424.23,719.93 L425.03,719.73 L425.84,719.54 L426.64,719.34 L427.44,719.15 L428.25,718.96 L429.06,718.77 L429.86,718.58 L430.68,718.39 L431.49,718.21 L432.30,718.02 L433.12,717.84 L433.93,717.66 L434.75,717.48 L435.57,717.31 L436.39,717.13 L437.22,716.96 L438.04,716.79 L438.87,716.62 L439.70,716.45 L440.53,716.29 L441.36,716.12 L442.19,715.96 L443.03,715.80 L443.86,715.64 L444.70,715.48 L445.54,715.33 L446.38,715.17 L447.22,715.02 L448.06,714.87 L448.91,714.72 L449.75,714.58 L450.60,714.43 L451.45,714.29 L452.30,714.15 L453.15,714.01 L454.01,713.87 L454.86,713.73 L455.72,713.60 L456.58,713.47 L457.44,713.33 L458.30,713.21 L459.16,713.08 L460.03,712.95 L460.89,712.83 L461.76,712.71 L462.63,712.59 L463.50,712.47 L464.37,712.35 L465.24,712.24 L466.12,712.12 L467.00,712.01 L467.87,711.90 L468.75,711.79 L469.63,711.69 L470.51,711.58 L471.40,711.48 L472.28,711.38 L473.17,711.28 L474.06,711.18 L474.94,711.09 L475.84,710.99 L476.73,710.90 L477.62,710.81 L478.51,710.72 L479.41,710.64 L480.31,710.55 L481.21,710.47 L482.11,710.39 L483.01,710.31 L483.91,710.23 L484.82,710.16 L485.72,710.08 L486.63,710.01 L487.54,709.94 L488.45,709.87 L489.36,709.81 L490.27,709.74 L491.18,709.68 L492.10,709.62 L493.02,709.56 L493.93,709.50 L494.85,709.44 L495.77,709.39 L496.70,709.34 L497.62,709.29 L498.54,709.24 L499.47,709.19 L500.40,709.14 L501.33,709.10 L502.26,709.06 L503.19,709.02 L504.12,708.98 L505.05,708.95 L505.99,708.91 L506.92,708.88 L507.86,708.85 L508.80,708.82 L509.74,708.79 L510.68,708.77 L511.63,708.74 L512.57,708.72 L513.52,708.70 L514.46,708.68 L515.41,708.67 L516.36,708.65 L517.31,708.64 L518.26,708.63 L519.21,708.62 L520.17,708.61 L521.12,708.60 L522.08,708.60 L523.04,708.60 L524.00,708.60 L524.96,708.60 L525.92,708.60 L526.88,708.61 L527.85,708.61 L528.81,708.62 L529.78,708.63 L530.75,708.64 L531.71,708.66 L532.68,708.67 L533.66,708.69 L534.63,708.71 L535.60,708.73 L536.58,708.75 L537.55,708.77 L538.53,708.80 L539.51,708.83 L540.49,708.86 L541.47,708.89 L542.45,708.92 L543.43,708.96 L544.42,708.99 L545.40,709.03 L546.39,709.07 L547.38,709.11 L548.36,709.16 L549.35,709.20 L550.35,709.25 L551.34,709.30 L552.33,709.35 L553.32,709.40 L554.32,709.45 L555.32,709.51 L556.31,709.56 L557.31,709.62 L558.31,709.68 L559.31,709.74 L560.32,709.81 L561.32,709.87 L562.32,709.94 L563.33,710.01 L564.33,710.08 L565.34,710.15 L566.35,710.23 L567.36,710.30 L568.37,710.38 L569.38,710.46 L570.39,710.54 L571.41,710.62 L572.42,710.70 L573.44,710.79 L574.46,710.87 L575.47,710.96 L576.49,711.05 L577.51,711.14 L578.53,711.24 L579.56,711.33 L580.58,711.43 L581.60,711.53 L582.63,711.62 L583.65,711.73 L584.68,711.83 L585.71,711.93 L586.74,712.04 L587.77,712.15 L588.80,712.25 L589.83,712.37 L590.86,712.48 L591.90,712.59 L592.93,712.71 L593.97,712.82 L595.00,712.94 L596.04,713.06 L597.08,713.18 L598.12,713.30 L599.16,713.43 L600.20,713.55 L601.24,713.68 L602.29,713.81 L603.33,713.94 L604.38,714.07 L605.42,714.20 L606.47,714.33 L607.52,714.47 L608.57,714.60 L609.62,714.74 L610.67,714.88 L611.72,715.02 L612.77,715.17 L613.82,715.31 L614.88,715.45 L615.93,715.60 L616.99,715.75 L618.05,715.90 L619.10,716.05 L620.16,716.20 L621.22,716.35 L622.28,716.50 L623.34,716.66 L624.40,716.82 L625.47,716.97 L626.53,717.13 L627.59,717.29 L628.66,717.45 L629.73,717.62 L630.79,717.78 L631.86,717.94 L632.93,718.11 L634.00,718.28 L635.07,718.45 L636.14,718.62 L637.21,718.79 L638.28,718.96 L639.36,719.13 L640.43,719.30 L641.51,719.48 L642.58,719.65 L643.66,719.83 L644.73,720.01 L645.81,720.19 L646.89,720.37 L647.97,720.55 L649.05,720.73 L650.13,720.91 L651.21,721.10 L652.30,721.28 L653.38,721.47 L654.46,721.65 L655.55,721.84 L656.63,722.03 L657.72,722.22 L658.80,722.41 L659.89,722.60 L660.98,722.79 L662.07,722.98 L663.16,723.17 L664.25,723.37 L665.34,723.56 L666.43,723.75 L667.52,723.95 L668.62,724.15 L669.71,724.34 L670.80,724.54 L671.90,724.74 L672.99,724.94 L674.09,725.14 L675.19,725.34 L676.28,725.54 L677.38,725.74 L678.48,725.94 L679.58,726.14 L680.68,726.34 L681.78,726.54 L682.88,726.75 L683.98,726.95 L685.09,727.15 L686.19,727.36 L687.29,727.56 L688.40,727.77 L689.50,727.97 L690.61,728.18 L691.71,728.38 L692.82,728.59 L693.93,728.79 L695.03,729.00 L696.14,729.21 L697.25,729.41 L698.36,729.62 L699.47,729.82 L700.58,730.03 L701.69,730.24 L702.80,730.44 L703.92,730.65 L705.03,730.86 L706.14,731.06 L707.26,731.27 L708.37,731.47 L709.49,731.68 L710.60,731.89 L711.72,732.09 L712.83,732.30 L713.95,732.50 L715.07,732.71 L716.18,732.91 L717.30,733.11 L718.42,733.32 L719.54,733.52 L720.66,733.72 L721.78,733.93 L722.90,734.13 L724.02,734.33 L725.14,734.53 L726.27,734.73 L727.39,734.93 L728.51,735.13 L729.63,735.33 L730.76,735.52 L731.88,735.72 L733.01,735.92 L734.13,736.11 L735.26,736.31 L736.38,736.50 L737.51,736.69 L738.64,736.89 L739.76,737.08 L740.89,737.27 L742.02,737.46 L743.15,737.65 L744.27,737.83 L745.40,738.02 L746.53,738.20 L747.66,738.39 L748.79,738.57 L749.92,738.75 L751.05,738.93 L752.18,739.11 L753.32,739.29 L754.45,739.47 L755.58,739.64 L756.71,739.81 L757.84,739.99 L758.98,740.16 L760.11,740.33 L761.25,740.50 L762.38,740.66 L763.51,740.83 L764.65,740.99 L765.78,741.15 L766.92,741.31 L768.05,741.47 L769.19,741.63 L770.33,741.78 L771.46,741.93 L772.60,742.09 L773.74,742.24 L774.87,742.38 L776.01,742.53 L777.15,742.67 L778.29,742.81 L779.42,742.96 L780.56,743.09 L781.70,743.23 L782.84,743.36 L783.98,743.49 L785.12,743.62 L786.26,743.75 L787.40,743.88 L788.54,744.00 L789.68,744.12 L790.82,744.24 L791.96,744.36 L793.10,744.47 L794.24,744.58 L795.38,744.69 L796.52,744.80 L797.66,744.91 L798.81,745.01 L799.95,745.11 L801.09,745.21 L802.23,745.30 L803.37,745.40 L804.52,745.49 L805.66,745.57 L806.80,745.66 L807.95,745.74 L809.09,745.82 L810.23,745.90 L811.37,745.97 L812.52,746.05 L813.66,746.12 L814.81,746.18 L815.95,746.25 L817.09,746.31 L818.24,746.37 L819.38,746.43 L820.52,746.48 L821.67,746.53 L822.81,746.58 L823.96,746.62 L825.10,746.67 L826.25,746.70 L827.39,746.74 L828.54,746.78 L829.68,746.81 L830.82,746.84 L831.97,746.86 L833.11,746.88 L834.26,746.90 L835.40,746.92 L836.55,746.94 L837.69,746.95 L838.84,746.96 L839.98,746.96 L841.13,746.96 L842.27,746.96 L843.42,746.96 L844.56,746.96 L845.71,746.95 L846.85,746.94 L848.00,746.92 L849.14,746.90 L850.29,746.88 L851.43,746.86 L852.58,746.84 L853.72,746.81 L854.86,746.78 L856.01,746.74 L857.15,746.70 L858.30,746.67 L859.44,746.62 L860.59,746.58 L861.73,746.53 L862.88,746.48 L864.02,746.43 L865.16,746.37 L866.31,746.31 L867.45,746.25 L868.59,746.18 L869.74,746.12 L870.88,746.05 L872.03,745.97 L873.17,745.90 L874.31,745.82 L875.45,745.74 L876.60,745.66 L877.74,745.57 L878.88,745.49 L880.03,745.40 L881.17,745.30 L882.31,745.21 L883.45,745.11 L884.59,745.01 L885.74,744.91 L886.88,744.80 L888.02,744.69 L889.16,744.58 L890.30,744.47 L891.44,744.36 L892.58,744.24 L893.72,744.12 L894.86,744.00 L896.00,743.88 L897.14,743.75 L898.28,743.62 L899.42,743.49 L900.56,743.36 L901.70,743.23 L902.84,743.09 L903.98,742.96 L905.11,742.81 L906.25,742.67 L907.39,742.53 L908.53,742.38 L909.66,742.24 L910.80,742.09 L911.94,741.93 L913.07,741.78 L914.21,741.63 L915.35,741.47 L916.48,741.31 L917.62,741.15 L918.75,740.99 L919.89,740.83 L921.02,740.66 L922.15,740.50 L923.29,740.33 L924.42,740.16 L925.56,739.99 L926.69,739.81 L927.82,739.64 L928.95,739.47 L930.08,739.29 L931.22,739.11 L932.35,738.93 L933.48,738.75 L934.61,738.57 L935.74,738.39 L936.87,738.20 L938.00,738.02 L939.13,737.83 L940.25,737.65 L941.38,737.46 L942.51,737.27 L943.64,737.08 L944.76,736.89 L945.89,736.69 L947.02,736.50 L948.14,736.31 L949.27,736.11 L950.39,735.92 L951.52,735.72 L952.64,735.52 L953.77,735.33 L954.89,735.13 L956.01,734.93 L957.13,734.73 L958.26,734.53 L959.38,734.33 L960.50,734.13 L961.62,733.93 L962.74,733.72 L963.86,733.52 L964.98,733.32 L966.10,733.11 L967.22,732.91 L968.33,732.71 L969.45,732.50 L970.57,732.30 L971.68,732.09 L972.80,731.89 L973.91,731.68 L975.03,731.47 L976.14,731.27 L977.26,731.06 L978.37,730.86 L979.48,730.65 L980.60,730.44 L981.71,730.24 L982.82,730.03 L983.93,729.82 L985.04,729.62 L986.15,729.41 L987.26,729.21 L988.37,729.00 L989.47,728.79 L990.58,728.59 L991.69,728.38 L992.79,728.18 L993.90,727.97 L995.00,727.77 L996.11,727.56 L997.21,727.36 L998.31,727.15 L999.42,726.95 L1000.52,726.75 L1001.62,726.54 L1002.72,726.34 L1003.82,726.14 L1004.92,725.94 L1006.02,725.74 L1007.12,725.54 L1008.21,725.34 L1009.31,725.14 L1010.41,724.94 L1011.50,724.74 L1012.60,724.54 L1013.69,724.34 L1014.78,724.15 L1015.88,723.95 L1016.97,723.75 L1018.06,723.56 L1019.15,723.37 L1020.24,723.17 L1021.33,722.98 L1022.42,722.79 L1023.51,722.60 L1024.60,722.41 L1025.68,722.22 L1026.77,722.03 L1027.85,721.84 L1028.94,721.65 L1030.02,721.47 L1031.10,721.28 L1032.19,721.10 L1033.27,720.91 L1034.35,720.73 L1035.43,720.55 L1036.51,720.37 L1037.59,720.19 L1038.67,720.01 L1039.74,719.83 L1040.82,719.65 L1041.89,719.48 L1042.97,719.30 L1044.04,719.13 L1045.12,718.96 L1046.19,718.79 L1047.26,718.62 L1048.33,718.45 L1049.40,718.28 L1050.47,718.11 L1051.54,717.94 L1052.61,717.78 L1053.67,717.62 L1054.74,717.45 L1055.81,717.29 L1056.87,717.13 L1057.93,716.97 L1059.00,716.82 L1060.06,716.66 L1061.12,716.50 L1062.18,716.35 L1063.24,716.20 L1064.30,716.05 L1065.35,715.90 L1066.41,715.75 L1067.47,715.60 L1068.52,715.45 L1069.58,715.31 L1070.63,715.17 L1071.68,715.02 L1072.73,714.88 L1073.78,714.74 L1074.83,714.60 L1075.88,714.47 L1076.93,714.33 L1077.98,714.20 L1079.02,714.07 L1080.07,713.94 L1081.11,713.81 L1082.16,713.68 L1083.20,713.55 L1084.24,713.43 L1085.28,713.30 L1086.32,713.18 L1087.36,713.06 L1088.40,712.94 L1089.43,712.82 L1090.47,712.71 L1091.50,712.59 L1092.54,712.48 L1093.57,712.37 L1094.60,712.25 L1095.63,712.15 L1096.66,712.04 L1097.69,711.93 L1098.72,711.83 L1099.75,711.73 L1100.77,711.62 L1101.80,711.53 L1102.82,711.43 L1103.84,711.33 L1104.87,711.24 L1105.89,711.14 L1106.91,711.05 L1107.93,710.96 L1108.94,710.87 L1109.96,710.79 L1110.98,710.70 L1111.99,710.62 L1113.01,710.54 L1114.02,710.46 L1115.03,710.38 L1116.04,710.30 L1117.05,710.23 L1118.06,710.15 L1119.07,710.08 L1120.07,710.01 L1121.08,709.94 L1122.08,709.87 L1123.08,709.81 L1124.09,709.74 L1125.09,709.68 L1126.09,709.62 L1127.09,709.56 L1128.08,709.51 L1129.08,709.45 L1130.08,709.40 L1131.07,709.35 L1132.06,709.30 L1133.05,709.25 L1134.05,709.20 L1135.04,709.16 L1136.02,709.11 L1137.01,709.07 L1138.00,709.03 L1138.98,708.99 L1139.97,708.96 L1140.95,708.92 L1141.93,708.89 L1142.91,708.86 L1143.89,708.83 L1144.87,708.80 L1145.85,708.77 L1146.82,708.75 L1147.80,708.73 L1148.77,708.71 L1149.74,708.69 L1150.72,708.67 L1151.69,708.66 L1152.65,708.64 L1153.62,708.63 L1154.59,708.62 L1155.55,708.61 L1156.52,708.61 L1157.48,708.60 L1158.44,708.60 L1159.40,708.60 L1160.36,708.60 L1161.32,708.60 L1162.28,708.60 L1163.23,708.61 L1164.19,708.62 L1165.14,708.63 L1166.09,708.64 L1167.04,708.65 L1167.99,708.67 L1168.94,708.68 L1169.88,708.70 L1170.83,708.72 L1171.77,708.74 L1172.72,708.77 L1173.66,708.79 L1174.60,708.82 L1175.54,708.85 L1176.48,708.88 L1177.41,708.91 L1178.35,708.95 L1179.28,708.98 L1180.21,709.02 L1181.14,709.06 L1182.07,709.10 L1183.00,709.14 L1183.93,709.19 L1184.86,709.24 L1185.78,709.29 L1186.70,709.34 L1187.63,709.39 L1188.55,709.44 L1189.47,709.50 L1190.38,709.56 L1191.30,709.62 L1192.22,709.68 L1193.13,709.74 L1194.04,709.81 L1194.95,709.87 L1195.86,709.94 L1196.77,710.01 L1197.68,710.08 L1198.58,710.16 L1199.49,710.23 L1200.39,710.31 L1201.29,710.39 L1202.19,710.47 L1203.09,710.55 L1203.99,710.64 L1204.89,710.72 L1205.78,710.81 L1206.67,710.90 L1207.56,710.99 L1208.46,711.09 L1209.34,711.18 L1210.23,711.28 L1211.12,711.38 L1212.00,711.48 L1212.89,711.58 L1213.77,711.69 L1214.65,711.79 L1215.53,711.90 L1216.40,712.01 L1217.28,712.12 L1218.16,712.24 L1219.03,712.35 L1219.90,712.47 L1220.77,712.59 L1221.64,712.71 L1222.51,712.83 L1223.37,712.95 L1224.24,713.08 L1225.10,713.21 L1225.96,713.33 L1226.82,713.47 L1227.68,713.60 L1228.54,713.73 L1229.39,713.87 L1230.25,714.01 L1231.10,714.15 L1231.95,714.29 L1232.80,714.43 L1233.65,714.58 L1234.49,714.72 L1235.34,714.87 L1236.18,715.02 L1237.02,715.17 L1237.86,715.33 L1238.70,715.48 L1239.54,715.64 L1240.37,715.80 L1241.21,715.96 L1242.04,716.12 L1242.87,716.29 L1243.70,716.45 L1244.53,716.62 L1245.36,716.79 L1246.18,716.96 L1247.01,717.13 L1247.83,717.31 L1248.65,717.48 L1249.47,717.66 L1250.28,717.84 L1251.10,718.02 L1251.91,718.21 L1252.72,718.39 L1253.54,718.58 L1254.34,718.77 L1255.15,718.96 L1255.96,719.15 L1256.76,719.34 L1257.56,719.54 L1258.37,719.73 L1259.17,719.93 L1259.96,720.13 L1260.76,720.33 L1261.55,720.54 L1262.35,720.74 L1263.14,720.95 L1263.93,721.16 L1264.72,721.37 L1265.50,721.58 L1266.29,721.79 L1267.07,722.01 L1267.85,722.22 L1268.63,722.44 L1269.41,722.66 L1270.19,722.89 L1270.96,723.11 L1271.74,723.33 L1272.51,723.56 L1273.28,723.79 L1274.05,724.02 L1274.81,724.25 L1275.58,724.48 L1276.34,724.72 L1277.10,724.96 L1277.86,725.19 L1278.62,725.43 L1279.38,725.68 L1280.13,725.92 L1280.89,726.16 L1281.64,726.41 L1282.39,726.66 L1283.14,726.91 L1283.88,727.16 L1284.63,727.41 L1285.37,727.67 L1286.11,727.92 L1286.85,728.18 L1287.59,728.44 L1288.33,728.70 L1289.06,728.96 L1289.79,729.23 L1290.52,729.49 L1291.25,729.76 L1291.98,730.03 L1292.71,730.30 L1293.43,730.57 L1294.15,730.84 L1294.87,731.12 L1295.59,731.39 L1296.31,731.67 L1297.03,731.95 L1297.74,732.23 L1298.45,732.52 L1299.16,732.80 L1299.87,733.09 L1300.58,733.37 L1301.28,733.66 L1301.98,733.95 L1302.68,734.24 L1303.38,734.54 L1304.08,734.83 L1304.78,735.13 L1305.47,735.43 L1306.16,735.73 L1306.85,736.03 L1307.54,736.33 L1308.23,736.64 L1308.91,736.94 L1309.60,737.25 L1310.28,737.56 L1310.96,737.87 L1311.64,738.18 L1312.31,738.49 L1312.99,738.81 L1313.66,739.12 L1314.33,739.44 L1315.00,739.76 L1315.67,740.08 L1316.33,740.40 L1316.99,740.72 L1317.66,741.05 L1318.31,741.37 L1318.97,741.70 L1319.63,742.03 L1320.28,742.36 L1320.93,742.69 L1321.59,743.03 L1322.23,743.36 L1322.88,743.70 L1323.53,744.03 L1324.17,744.37 L1324.81,744.71 L1325.45,745.06 L1326.09,745.40 L1326.72,745.74 L1327.35,746.09 L1327.99,746.44 L1328.62,746.79 L1329.24,747.14 L1329.87,747.49 L1330.49,747.84 L1331.12,748.20 L1331.74,748.55 L1332.36,748.91 L1332.97,749.27 L1333.59,749.63 L1334.20,749.99 L1334.81,750.35 L1335.42,750.71 L1336.03,751.08 L1336.63,751.45 L1337.24,751.81 L1337.84,752.18 L1338.44,752.55 L1339.03,752.93 L1339.63,753.30 L1340.22,753.67 L1340.82,754.05 L1341.41,754.43 L1341.99,754.81 L1342.58,755.18 L1343.16,755.57 L1343.75,755.95 L1344.33,756.33 L1344.90,756.72 L1345.48,757.10 L1346.05,757.49 L1346.63,757.88 L1347.20,758.27 L1347.77,758.66 L1348.33,759.05 L1348.90,759.45 L1349.46,759.84 L1350.02,760.24 L1350.58,760.64 L1351.14,761.04 L1351.69,761.44 L1352.24,761.84 L1352.79,762.24 L1353.34,762.64 L1353.89,763.05 L1354.44,763.45 L1354.98,763.86 L1355.52,764.27 L1356.06,764.68 L1356.60,765.09 L1357.13,765.50 L1357.66,765.92 L1358.19,766.33 L1358.72,766.75 L1359.25,767.16 L1359.78,767.58 L1360.30,768.00 L1360.82,768.42 L1361.34,768.84 L1361.86,769.27 L1362.37,769.69 L1362.88,770.11 L1363.39,770.54 L1363.90,770.97 L1364.41,771.40 L1364.92,771.83 L1365.42,772.26 L1365.92,772.69 L1366.42,773.12 L1366.92,773.56 L1367.41,773.99 L1367.90,774.43 L1368.39,774.87 L1368.88,775.30 L1369.37,775.74 L1369.85,776.18 L1370.34,776.63 L1370.82,777.07 L1371.30,777.51 L1371.77,777.96 L1372.25,778.40 L1372.72,778.85 L1373.19,779.30 L1373.66,779.75 L1374.12,780.20 L1374.59,780.65 L1375.05,781.10 L1375.51,781.56 L1375.97,782.01 L1376.42,782.47 L1376.88,782.92 L1377.33,783.38 L1377.78,783.84 L1378.23,784.30 L1378.67,784.76 L1379.12,785.22 L1379.56,785.68 L1380.00,786.15 L1380.44,786.61 L1380.87,787.08 L1381.30,787.54 L1381.74,788.01 L1382.16,788.48 L1382.59,788.95 L1383.02,789.42 L1383.44,789.89 L1383.86,790.36 L1384.28,790.83 L1384.69,791.31 L1385.11,791.78 L1385.52,792.26 L1385.93,792.74 L1386.34,793.21 L1386.75,793.69 L1387.15,794.17 L1387.55,794.65 L1387.95,795.13 L1388.35,795.62 L1388.74,796.10 L1389.14,796.58 L1389.53,797.07 L1389.92,797.56 L1390.30,798.04 L1390.69,798.53 L1391.07,799.02 L1391.45,799.51 L1391.83,800.00 L1392.21,800.49 L1392.58,800.98 L1392.95,801.47 L1393.32,801.97 L1393.69,802.46 L1394.06,802.96 L1394.42,803.45 L1394.78,803.95 L1395.14,804.45 L1395.50,804.95 L1395.85,805.45 L1396.21,805.95 L1396.56,806.45 L1396.91,806.95 L1397.25,807.45 L1397.60,807.95 L1397.94,808.46 L1398.28,808.96 L1398.62,809.47 L1398.95,809.98 L1399.29,810.48 L1399.62,810.99 L1399.95,811.50 L1400.27,812.01 L1400.60,812.52 L1400.92,813.03 L1401.24,813.54 L1401.56,814.05 L1401.88,814.57 L1402.19,815.08 L1402.50,815.60 L1402.81,816.11 L1403.12,816.63 L1403.43,817.14 L1403.73,817.66 L1404.03,818.18 L1404.33,818.70 L1404.63,819.22 L1404.92,819.74 L1405.22,820.26 L1405.51,820.78 L1405.79,821.30 L1406.08,821.82 L1406.36,822.35 L1406.64,822.87 L1406.92,823.39 L1407.20,823.92 L1407.48,824.44 L1407.75,824.97 L1408.02,825.50 L1408.29,826.03 L1408.56,826.55 L1408.82,827.08 L1409.08,827.61 L1409.34,828.14 L1409.60,828.67 L1409.85,829.20 L1410.11,829.74 L1410.36,830.27 L1410.61,830.80 L1410.85,831.33 L1411.10,831.87 L1411.34,832.40 L1411.58,832.94 L1411.82,833.47 L1412.05,834.01 L1412.29,834.55 L1412.52,835.08 L1412.75,835.62 L1412.97,836.16 L1413.20,836.70 L1413.42,837.24 L1413.64,837.78 L1413.86,838.32 L1414.07,838.86 L1414.29,839.40 L1414.50,839.94 L1414.71,840.48 L1414.92,841.03 L1415.12,841.57 L1415.32,842.11 L1415.52,842.66 L1415.72,843.20 L1415.92,843.75 L1416.11,844.29 L1416.30,844.84 L1416.49,845.38 L1416.68,845.93 L1416.86,846.48 L1417.05,847.03 L1417.23,847.57 L1417.40,848.12 L1417.58,848.67 L1417.75,849.22 L1417.93,849.77 L1418.09,850.32 L1418.26,850.87 L1418.43,851.42 L1418.59,851.97 L1418.75,852.52 L1418.91,853.08 L1419.06,853.63 L1419.22,854.18 L1419.37,854.73 L1419.52,855.29 L1419.66,855.84 L1419.81,856.39 L1419.95,856.95 L1420.09,857.50 L1420.23,858.06 L1420.37,858.61 L1420.50,859.17 L1420.63,859.72 L1420.76,860.28 L1420.89,860.84 L1421.01,861.39 L1421.13,861.95 L1421.25,862.51 L1421.37,863.06 L1421.49,863.62 L1421.60,864.18 L1421.71,864.74 L1421.82,865.30 L1421.93,865.86 L1422.03,866.41 L1422.13,866.97 L1422.23,867.53 L1422.33,868.09 L1422.43,868.65 L1422.52,869.21 L1422.61,869.77 L1422.70,870.33 L1422.79,870.89 L1422.87,871.46 L1422.95,872.02 L1423.03,872.58 L1423.11,873.14 L1423.18,873.70 L1423.26,874.26 L1423.33,874.82 L1423.40,875.39 L1423.46,875.95 L1423.53,876.51 L1423.59,877.07 L1423.65,877.64 L1423.71,878.20 L1423.76,878.76 L1423.81,879.33 L1423.86,879.89 L1423.91,880.45 L1423.96,881.02 L1424.00,881.58 L1424.04,882.14 L1424.08,882.71 L1424.12,883.27 L1424.16,883.83 L1424.19,884.40 L1424.22,884.96 L1424.25,885.53 L1424.27,886.09 L1424.30,886.66 L1424.32,887.22 L1424.34,887.78 L1424.35,888.35 L1424.37,888.91 L1424.38,889.48 L1424.39,890.04 L1424.40,890.61 L1424.40,891.17 L1424.41,891.74 L1424.41,892.30 L1424.41,892.87 L1424.40,893.44 L1424.40,894.01 L1424.39,894.58 L1424.38,895.15 L1424.37,895.72 L1424.35,896.29 L1424.34,896.86 L1424.32,897.43 L1424.30,898.00 L1424.27,898.57 L1424.25,899.14 L1424.22,899.71 L1424.19,900.28 L1424.16,900.85 L1424.12,901.42 L1424.08,901.99 L1424.04,902.56 L1424.00,903.13 L1423.96,903.70 L1423.91,904.26 L1423.86,904.83 L1423.81,905.40 L1423.76,905.97 L1423.71,906.54 L1423.65,907.11 L1423.59,907.68 L1423.53,908.24 L1423.46,908.81 L1423.40,909.38 L1423.33,909.95 L1423.26,910.52 L1423.18,911.08 L1423.11,911.65 L1423.03,912.22 L1422.95,912.78 L1422.87,913.35 L1422.79,913.92 L1422.70,914.48 L1422.61,915.05 L1422.52,915.62 L1422.43,916.18 L1422.33,916.75 L1422.23,917.31 L1422.13,917.88 L1422.03,918.44 L1421.93,919.01 L1421.82,919.57 L1421.71,920.13 L1421.60,920.70 L1421.49,921.26 L1421.37,921.82 L1421.25,922.39 L1421.13,922.95 L1421.01,923.51 L1420.89,924.07 L1420.76,924.64 L1420.63,925.20 L1420.50,925.76 L1420.37,926.32 L1420.23,926.88 L1420.09,927.44 L1419.95,928.00 L1419.81,928.56 L1419.66,929.12 L1419.52,929.68 L1419.37,930.24 L1419.22,930.80 L1419.06,931.35 L1418.91,931.91 L1418.75,932.47 L1418.59,933.03 L1418.43,933.58 L1418.26,934.14 L1418.09,934.69 L1417.93,935.25 L1417.75,935.81 L1417.58,936.36 L1417.40,936.91 L1417.23,937.47 L1417.05,938.02 L1416.86,938.57 L1416.68,939.13 L1416.49,939.68 L1416.30,940.23 L1416.11,940.78 L1415.92,941.33 L1415.72,941.88 L1415.52,942.43 L1415.32,942.98 L1415.12,943.53 L1414.92,944.08 L1414.71,944.63 L1414.50,945.18 L1414.29,945.72 L1414.07,946.27 L1413.86,946.82 L1413.64,947.36 L1413.42,947.91 L1413.20,948.45 L1412.97,949.00 L1412.75,949.54 L1412.52,950.08 L1412.29,950.62 L1412.05,951.17 L1411.82,951.71 L1411.58,952.25 L1411.34,952.79 L1411.10,953.33 L1410.85,953.87 L1410.61,954.41 L1410.36,954.95 L1410.11,955.48 L1409.85,956.02 L1409.60,956.56 L1409.34,957.09 L1409.08,957.63 L1408.82,958.16 L1408.56,958.70 L1408.29,959.23 L1408.02,959.76 L1407.75,960.29 L1407.48,960.83 L1407.20,961.36 L1406.92,961.89 L1406.64,962.42 L1406.36,962.95 L1406.08,963.47 L1405.79,964.00 L1405.51,964.53 L1405.22,965.06 L1404.92,965.58 L1404.63,966.11 L1404.33,966.63 L1404.03,967.15 L1403.73,967.68 L1403.43,968.20 L1403.12,968.72 L1402.81,969.24 L1402.50,969.76 L1402.19,970.28 L1401.88,970.80 L1401.56,971.32 L1401.24,971.84 L1400.92,972.35 L1400.60,972.87 L1400.27,973.38 L1399.95,973.90 L1399.62,974.41 L1399.29,974.93 L1398.95,975.44 L1398.62,975.95 L1398.28,976.46 L1397.94,976.97 L1397.60,977.48 L1397.25,977.99 L1396.91,978.49 L1396.56,979.00 L1396.21,979.51 L1395.85,980.01 L1395.50,980.52 L1395.14,981.02 L1394.78,981.52 L1394.42,982.02 L1394.06,982.52 L1393.69,983.03 L1393.32,983.52 L1392.95,984.02 L1392.58,984.52 L1392.21,985.02 L1391.83,985.51 L1391.45,986.01 L1391.07,986.50 L1390.69,987.00 L1390.30,987.49 L1389.92,987.98 L1389.53,988.47 L1389.14,988.96 L1388.74,989.45 L1388.35,989.94 L1387.95,990.42 L1387.55,990.91 L1387.15,991.40 L1386.75,991.88 L1386.34,992.36 L1385.93,992.85 L1385.52,993.33 L1385.11,993.81 L1384.69,994.29 L1384.28,994.77 L1383.86,995.25 L1383.44,995.72 L1383.02,996.20 L1382.59,996.67 L1382.16,997.15 L1381.74,997.62 L1381.30,998.09 L1380.87,998.56 L1380.44,999.03 L1380.00,999.50 L1379.56,999.97 L1379.12,1000.44 L1378.67,1000.90 L1378.23,1001.37 L1377.78,1001.83 L1377.33,1002.30 L1376.88,1002.76 L1376.42,1003.22 L1375.97,1003.68 L1375.51,1004.14 L1375.05,1004.60 L1374.59,1005.05 L1374.12,1005.51 L1373.66,1005.96 L1373.19,1006.42 L1372.72,1006.87 L1372.25,1007.32 L1371.77,1007.77 L1371.30,1008.22 L1370.82,1008.67 L1370.34,1009.12 L1369.85,1009.56 L1369.37,1010.01 L1368.88,1010.45 L1368.39,1010.89 L1367.90,1011.34 L1367.41,1011.78 L1366.92,1012.22 L1366.42,1012.66 L1365.92,1013.09 L1365.42,1013.53 L1364.92,1013.96 L1364.41,1014.40 L1363.90,1014.83 L1363.39,1015.26 L1362.88,1015.69 L1362.37,1016.11 L1361.86,1016.53 L1361.34,1016.96 L1360.82,1017.38 L1360.30,1017.80 L1359.78,1018.22 L1359.25,1018.64 L1358.72,1019.05 L1358.19,1019.47 L1357.66,1019.88 L1357.13,1020.30 L1356.60,1020.71 L1356.06,1021.12 L1355.52,1021.53 L1354.98,1021.94 L1354.44,1022.35 L1353.89,1022.75 L1353.34,1023.16 L1352.79,1023.56 L1352.24,1023.96 L1351.69,1024.36 L1351.14,1024.76 L1350.58,1025.16 L1350.02,1025.56 L1349.46,1025.96 L1348.90,1026.35 L1348.33,1026.75 L1347.77,1027.14 L1347.20,1027.53 L1346.63,1027.92 L1346.05,1028.31 L1345.48,1028.70 L1344.90,1029.08 L1344.33,1029.47 L1343.75,1029.85 L1343.16,1030.23 L1342.58,1030.62 L1341.99,1030.99 L1341.41,1031.37 L1340.82,1031.75 L1340.22,1032.13 L1339.63,1032.50 L1339.03,1032.87 L1338.44,1033.25 L1337.84,1033.62 L1337.24,1033.99 L1336.63,1034.35 L1336.03,1034.72 L1335.42,1035.09 L1334.81,1035.45 L1334.20,1035.81 L1333.59,1036.17 L1332.97,1036.53 L1332.36,1036.89 L1331.74,1037.25 L1331.12,1037.60 L1330.49,1037.96 L1329.87,1038.31 L1329.24,1038.66 L1328.62,1039.01 L1327.99,1039.36 L1327.35,1039.71 L1326.72,1040.06 L1326.09,1040.40 L1325.45,1040.74 L1324.81,1041.09 L1324.17,1041.43 L1323.53,1041.77 L1322.88,1042.10 L1322.23,1042.44 L1321.59,1042.77 L1320.93,1043.11 L1320.28,1043.44 L1319.63,1043.77 L1318.97,1044.10 L1318.31,1044.43 L1317.66,1044.75 L1316.99,1045.08 L1316.33,1045.40 L1315.67,1045.72 L1315.00,1046.04 L1314.33,1046.36 L1313.66,1046.68 L1312.99,1046.99 L1312.31,1047.31 L1311.64,1047.62 L1310.96,1047.93 L1310.28,1048.24 L1309.60,1048.55 L1308.91,1048.86 L1308.23,1049.16 L1307.54,1049.47 L1306.85,1049.77 L1306.16,1050.07 L1305.47,1050.37 L1304.78,1050.67 L1304.08,1050.97 L1303.38,1051.26 L1302.68,1051.56 L1301.98,1051.85 L1301.28,1052.14 L1300.58,1052.43 L1299.87,1052.71 L1299.16,1053.00 L1298.45,1053.28 L1297.74,1053.57 L1297.03,1053.85 L1296.31,1054.13 L1295.59,1054.41 L1294.87,1054.68 L1294.15,1054.96 L1293.43,1055.23 L1292.71,1055.50 L1291.98,1055.77 L1291.25,1056.04 L1290.52,1056.31 L1289.79,1056.57 L1289.06,1056.84 L1288.33,1057.10 L1287.59,1057.36 L1286.85,1057.62 L1286.11,1057.88 L1285.37,1058.13 L1284.63,1058.39 L1283.88,1058.64 L1283.14,1058.89 L1282.39,1059.14 L1281.64,1059.39 L1280.89,1059.64 L1280.13,1059.88 L1279.38,1060.12 L1278.62,1060.37 L1277.86,1060.61 L1277.10,1060.84 L1276.34,1061.08 L1275.58,1061.32 L1274.81,1061.55 L1274.05,1061.78 L1273.28,1062.01 L1272.51,1062.24 L1271.74,1062.47 L1270.96,1062.69 L1270.19,1062.91 L1269.41,1063.14 L1268.63,1063.36 L1267.85,1063.58 L1267.07,1063.79 L1266.29,1064.01 L1265.50,1064.22 L1264.72,1064.43 L1263.93,1064.64 L1263.14,1064.85 L1262.35,1065.06 L1261.55,1065.26 L1260.76,1065.47 L1259.96,1065.67 L1259.17,1065.87 L1258.37,1066.07 L1257.56,1066.26 L1256.76,1066.46 L1255.96,1066.65 L1255.15,1066.84 L1254.34,1067.03 L1253.54,1067.22 L1252.72,1067.41 L1251.91,1067.59 L1251.10,1067.78 L1250.28,1067.96 L1249.47,1068.14 L1248.65,1068.32 L1247.83,1068.49 L1247.01,1068.67 L1246.18,1068.84 L1245.36,1069.01 L1244.53,1069.18 L1243.70,1069.35 L1242.87,1069.51 L1242.04,1069.68 L1241.21,1069.84 L1240.37,1070.00 L1239.54,1070.16 L1238.70,1070.32 L1237.86,1070.47 L1237.02,1070.63 L1236.18,1070.78 L1235.34,1070.93 L1234.49,1071.08 L1233.65,1071.22 L1232.80,1071.37 L1231.95,1071.51 L1231.10,1071.65 L1230.25,1071.79 L1229.39,1071.93 L1228.54,1072.07 L1227.68,1072.20 L1226.82,1072.33 L1225.96,1072.47 L1225.10,1072.59 L1224.24,1072.72 L1223.37,1072.85 L1222.51,1072.97 L1221.64,1073.09 L1220.77,1073.21 L1219.90,1073.33 L1219.03,1073.45 L1218.16,1073.56 L1217.28,1073.68 L1216.40,1073.79 L1215.53,1073.90 L1214.65,1074.01 L1213.77,1074.11 L1212.89,1074.22 L1212.00,1074.32 L1211.12,1074.42 L1210.23,1074.52 L1209.34,1074.62 L1208.46,1074.71 L1207.56,1074.81 L1206.67,1074.90 L1205.78,1074.99 L1204.89,1075.08 L1203.99,1075.16 L1203.09,1075.25 L1202.19,1075.33 L1201.29,1075.41 L1200.39,1075.49 L1199.49,1075.57 L1198.58,1075.64 L1197.68,1075.72 L1196.77,1075.79 L1195.86,1075.86 L1194.95,1075.93 L1194.04,1075.99 L1193.13,1076.06 L1192.22,1076.12 L1191.30,1076.18 L1190.38,1076.24 L1189.47,1076.30 L1188.55,1076.36 L1187.63,1076.41 L1186.70,1076.46 L1185.78,1076.51 L1184.86,1076.56 L1183.93,1076.61 L1183.00,1076.66 L1182.07,1076.70 L1181.14,1076.74 L1180.21,1076.78 L1179.28,1076.82 L1178.35,1076.85 L1177.41,1076.89 L1176.48,1076.92 L1175.54,1076.95 L1174.60,1076.98 L1173.66,1077.01 L1172.72,1077.03 L1171.77,1077.06 L1170.83,1077.08 L1169.88,1077.10 L1168.94,1077.12 L1167.99,1077.13 L1167.04,1077.15 L1166.09,1077.16 L1165.14,1077.17 L1164.19,1077.18 L1163.23,1077.19 L1162.28,1077.20 L1161.32,1077.20 L1160.36,1077.20 L1159.40,1077.20 L1158.44,1077.20 L1157.48,1077.20 L1156.52,1077.19 L1155.55,1077.19 L1154.59,1077.18 L1153.62,1077.17 L1152.65,1077.16 L1151.69,1077.14 L1150.72,1077.13 L1149.74,1077.11 L1148.77,1077.09 L1147.80,1077.07 L1146.82,1077.05 L1145.85,1077.03 L1144.87,1077.00 L1143.89,1076.97 L1142.91,1076.94 L1141.93,1076.91 L1140.95,1076.88 L1139.97,1076.84 L1138.98,1076.81 L1138.00,1076.77 L1137.01,1076.73 L1136.02,1076.69 L1135.04,1076.64 L1134.05,1076.60 L1133.05,1076.55 L1132.06,1076.50 L1131.07,1076.45 L1130.08,1076.40 L1129.08,1076.35 L1128.08,1076.29 L1127.09,1076.24 L1126.09,1076.18 L1125.09,1076.12 L1124.09,1076.06 L1123.08,1075.99 L1122.08,1075.93 L1121.08,1075.86 L1120.07,1075.79 L1119.07,1075.72 L1118.06,1075.65 L1117.05,1075.57 L1116.04,1075.50 L1115.03,1075.42 L1114.02,1075.34 L1113.01,1075.26 L1111.99,1075.18 L1110.98,1075.10 L1109.96,1075.01 L1108.94,1074.93 L1107.93,1074.84 L1106.91,1074.75 L1105.89,1074.66 L1104.87,1074.56 L1103.84,1074.47 L1102.82,1074.37 L1101.80,1074.27 L1100.77,1074.18 L1099.75,1074.07 L1098.72,1073.97 L1097.69,1073.87 L1096.66,1073.76 L1095.63,1073.65 L1094.60,1073.55 L1093.57,1073.43 L1092.54,1073.32 L1091.50,1073.21 L1090.47,1073.09 L1089.43,1072.98 L1088.40,1072.86 L1087.36,1072.74 L1086.32,1072.62 L1085.28,1072.50 L1084.24,1072.37 L1083.20,1072.25 L1082.16,1072.12 L1081.11,1071.99 L1080.07,1071.86 L1079.02,1071.73 L1077.98,1071.60 L1076.93,1071.47 L1075.88,1071.33 L1074.83,1071.20 L1073.78,1071.06 L1072.73,1070.92 L1071.68,1070.78 L1070.63,1070.63 L1069.58,1070.49 L1068.52,1070.35 L1067.47,1070.20 L1066.41,1070.05 L1065.35,1069.90 L1064.30,1069.75 L1063.24,1069.60 L1062.18,1069.45 L1061.12,1069.30 L1060.06,1069.14 L1059.00,1068.98 L1057.93,1068.83 L1056.87,1068.67 L1055.81,1068.51 L1054.74,1068.35 L1053.67,1068.18 L1052.61,1068.02 L1051.54,1067.86 L1050.47,1067.69 L1049.40,1067.52 L1048.33,1067.35 L1047.26,1067.18 L1046.19,1067.01 L1045.12,1066.84 L1044.04,1066.67 L1042.97,1066.50 L1041.89,1066.32 L1040.82,1066.15 L1039.74,1065.97 L1038.67,1065.79 L1037.59,1065.61 L1036.51,1065.43 L1035.43,1065.25 L1034.35,1065.07 L1033.27,1064.89 L1032.19,1064.70 L1031.10,1064.52 L1030.02,1064.33 L1028.94,1064.15 L1027.85,1063.96 L1026.77,1063.77 L1025.68,1063.58 L1024.60,1063.39 L1023.51,1063.20 L1022.42,1063.01 L1021.33,1062.82 L1020.24,1062.63 L1019.15,1062.43 L1018.06,1062.24 L1016.97,1062.05 L1015.88,1061.85 L1014.78,1061.65 L1013.69,1061.46 L1012.60,1061.26 L1011.50,1061.06 L1010.41,1060.86 L1009.31,1060.66 L1008.21,1060.46 L1007.12,1060.26 L1006.02,1060.06 L1004.92,1059.86 L1003.82,1059.66 L1002.72,1059.46 L1001.62,1059.26 L1000.52,1059.05 L999.42,1058.85 L998.31,1058.65 L997.21,1058.44 L996.11,1058.24 L995.00,1058.03 L993.90,1057.83 L992.79,1057.62 L991.69,1057.42 L990.58,1057.21 L989.47,1057.01 L988.37,1056.80 L987.26,1056.59 L986.15,1056.39 L985.04,1056.18 L983.93,1055.98 L982.82,1055.77 L981.71,1055.56 L980.60,1055.36 L979.48,1055.15 L978.37,1054.94 L977.26,1054.74 L976.14,1054.53 L975.03,1054.33 L973.91,1054.12 L972.80,1053.91 L971.68,1053.71 L970.57,1053.50 L969.45,1053.30 L968.33,1053.09 L967.22,1052.89 L966.10,1052.69 L964.98,1052.48 L963.86,1052.28 L962.74,1052.08 L961.62,1051.87 L960.50,1051.67 L959.38,1051.47 L958.26,1051.27 L957.13,1051.07 L956.01,1050.87 L954.89,1050.67 L953.77,1050.47 L952.64,1050.28 L951.52,1050.08 L950.39,1049.88 L949.27,1049.69 L948.14,1049.49 L947.02,1049.30 L945.89,1049.11 L944.76,1048.91 L943.64,1048.72 L942.51,1048.53 L941.38,1048.34 L940.25,1048.15 L939.13,1047.97 L938.00,1047.78 L936.87,1047.60 L935.74,1047.41 L934.61,1047.23 L933.48,1047.05 L932.35,1046.87 L931.22,1046.69 L930.08,1046.51 L928.95,1046.33 L927.82,1046.16 L926.69,1045.99 L925.56,1045.81 L924.42,1045.64 L923.29,1045.47 L922.15,1045.30 L921.02,1045.14 L919.89,1044.97 L918.75,1044.81 L917.62,1044.65 L916.48,1044.49 L915.35,1044.33 L914.21,1044.17 L913.07,1044.02 L911.94,1043.87 L910.80,1043.71 L909.66,1043.56 L908.53,1043.42 L907.39,1043.27 L906.25,1043.13 L905.11,1042.99 L903.98,1042.84 L902.84,1042.71 L901.70,1042.57 L900.56,1042.44 L899.42,1042.31 L898.28,1042.18 L897.14,1042.05 L896.00,1041.92 L894.86,1041.80 L893.72,1041.68 L892.58,1041.56 L891.44,1041.44 L890.30,1041.33 L889.16,1041.22 L888.02,1041.11 L886.88,1041.00 L885.74,1040.89 L884.59,1040.79 L883.45,1040.69 L882.31,1040.59 L881.17,1040.50 L880.03,1040.40 L878.88,1040.31 L877.74,1040.23 L876.60,1040.14 L875.45,1040.06 L874.31,1039.98 L873.17,1039.90 L872.03,1039.83 L870.88,1039.75 L869.74,1039.68 L868.59,1039.62 L867.45,1039.55 L866.31,1039.49 L865.16,1039.43 L864.02,1039.37 L862.88,1039.32 L861.73,1039.27 L860.59,1039.22 L859.44,1039.18 L858.30,1039.13 L857.15,1039.10 L856.01,1039.06 L854.86,1039.02 L853.72,1038.99 L852.58,1038.96 L851.43,1038.94 L850.29,1038.92 L849.14,1038.90 L848.00,1038.88 L846.85,1038.86 L845.71,1038.85 L844.56,1038.84 L843.42,1038.84 L842.27,1038.84 L841.13,1038.84 L839.98,1038.84 L838.84,1038.84 L837.69,1038.85 L836.55,1038.86 L835.40,1038.88 L834.26,1038.90 L833.11,1038.92 L831.97,1038.94 L830.82,1038.96 L829.68,1038.99 L828.54,1039.02 L827.39,1039.06 L826.25,1039.10 L825.10,1039.13 L823.96,1039.18 L822.81,1039.22 L821.67,1039.27 L820.52,1039.32 L819.38,1039.37 L818.24,1039.43 L817.09,1039.49 L815.95,1039.55 L814.81,1039.62 L813.66,1039.68 L812.52,1039.75 L811.37,1039.83 L810.23,1039.90 L809.09,1039.98 L807.95,1040.06 L806.80,1040.14 L805.66,1040.23 L804.52,1040.31 L803.37,1040.40 L802.23,1040.50 L801.09,1040.59 L799.95,1040.69 L798.81,1040.79 L797.66,1040.89 L796.52,1041.00 L795.38,1041.11 L794.24,1041.22 L793.10,1041.33 L791.96,1041.44 L790.82,1041.56 L789.68,1041.68 L788.54,1041.80 L787.40,1041.92 L786.26,1042.05 L785.12,1042.18 L783.98,1042.31 L782.84,1042.44 L781.70,1042.57 L780.56,1042.71 L779.42,1042.84 L778.29,1042.99 L777.15,1043.13 L776.01,1043.27 L774.87,1043.42 L773.74,1043.56 L772.60,1043.71 L771.46,1043.87 L770.33,1044.02 L769.19,1044.17 L768.05,1044.33 L766.92,1044.49 L765.78,1044.65 L764.65,1044.81 L763.51,1044.97 L762.38,1045.14 L761.25,1045.30 L760.11,1045.47 L758.98,1045.64 L757.84,1045.81 L756.71,1045.99 L755.58,1046.16 L754.45,1046.33 L753.32,1046.51 L752.18,1046.69 L751.05,1046.87 L749.92,1047.05 L748.79,1047.23 L747.66,1047.41 L746.53,1047.60 L745.40,1047.78 L744.27,1047.97 L743.15,1048.15 L742.02,1048.34 L740.89,1048.53 L739.76,1048.72 L738.64,1048.91 L737.51,1049.11 L736.38,1049.30 L735.26,1049.49 L734.13,1049.69 L733.01,1049.88 L731.88,1050.08 L730.76,1050.28 L729.63,1050.47 L728.51,1050.67 L727.39,1050.87 L726.27,1051.07 L725.14,1051.27 L724.02,1051.47 L722.90,1051.67 L721.78,1051.87 L720.66,1052.08 L719.54,1052.28 L718.42,1052.48 L717.30,1052.69 L716.18,1052.89 L715.07,1053.09 L713.95,1053.30 L712.83,1053.50 L711.72,1053.71 L710.60,1053.91 L709.49,1054.12 L708.37,1054.33 L707.26,1054.53 L706.14,1054.74 L705.03,1054.94 L703.92,1055.15 L702.80,1055.36 L701.69,1055.56 L700.58,1055.77 L699.47,1055.98 L698.36,1056.18 L697.25,1056.39 L696.14,1056.59 L695.03,1056.80 L693.93,1057.01 L692.82,1057.21 L691.71,1057.42 L690.61,1057.62 L689.50,1057.83 L688.40,1058.03 L687.29,1058.24 L686.19,1058.44 L685.09,1058.65 L683.98,1058.85 L682.88,1059.05 L681.78,1059.26 L680.68,1059.46 L679.58,1059.66 L678.48,1059.86 L677.38,1060.06 L676.28,1060.26 L675.19,1060.46 L674.09,1060.66 L672.99,1060.86 L671.90,1061.06 L670.80,1061.26 L669.71,1061.46 L668.62,1061.65 L667.52,1061.85 L666.43,1062.05 L665.34,1062.24 L664.25,1062.43 L663.16,1062.63 L662.07,1062.82 L660.98,1063.01 L659.89,1063.20 L658.80,1063.39 L657.72,1063.58 L656.63,1063.77 L655.55,1063.96 L654.46,1064.15 L653.38,1064.33 L652.30,1064.52 L651.21,1064.70 L650.13,1064.89 L649.05,1065.07 L647.97,1065.25 L646.89,1065.43 L645.81,1065.61 L644.73,1065.79 L643.66,1065.97 L642.58,1066.15 L641.51,1066.32 L640.43,1066.50 L639.36,1066.67 L638.28,1066.84 L637.21,1067.01 L636.14,1067.18 L635.07,1067.35 L634.00,1067.52 L632.93,1067.69 L631.86,1067.86 L630.79,1068.02 L629.73,1068.18 L628.66,1068.35 L627.59,1068.51 L626.53,1068.67 L625.47,1068.83 L624.40,1068.98 L623.34,1069.14 L622.28,1069.30 L621.22,1069.45 L620.16,1069.60 L619.10,1069.75 L618.05,1069.90 L616.99,1070.05 L615.93,1070.20 L614.88,1070.35 L613.82,1070.49 L612.77,1070.63 L611.72,1070.78 L610.67,1070.92 L609.62,1071.06 L608.57,1071.20 L607.52,1071.33 L606.47,1071.47 L605.42,1071.60 L604.38,1071.73 L603.33,1071.86 L602.29,1071.99 L601.24,1072.12 L600.20,1072.25 L599.16,1072.37 L598.12,1072.50 L597.08,1072.62 L596.04,1072.74 L595.00,1072.86 L593.97,1072.98 L592.93,1073.09 L591.90,1073.21 L590.86,1073.32 L589.83,1073.43 L588.80,1073.55 L587.77,1073.65 L586.74,1073.76 L585.71,1073.87 L584.68,1073.97 L583.65,1074.07 L582.63,1074.18 L581.60,1074.27 L580.58,1074.37 L579.56,1074.47 L578.53,1074.56 L577.51,1074.66 L576.49,1074.75 L575.47,1074.84 L574.46,1074.93 L573.44,1075.01 L572.42,1075.10 L571.41,1075.18 L570.39,1075.26 L569.38,1075.34 L568.37,1075.42 L567.36,1075.50 L566.35,1075.57 L565.34,1075.65 L564.33,1075.72 L563.33,1075.79 L562.32,1075.86 L561.32,1075.93 L560.32,1075.99 L559.31,1076.06 L558.31,1076.12 L557.31,1076.18 L556.31,1076.24 L555.32,1076.29 L554.32,1076.35 L553.32,1076.40 L552.33,1076.45 L551.34,1076.50 L550.35,1076.55 L549.35,1076.60 L548.36,1076.64 L547.38,1076.69 L546.39,1076.73 L545.40,1076.77 L544.42,1076.81 L543.43,1076.84 L542.45,1076.88 L541.47,1076.91 L540.49,1076.94 L539.51,1076.97 L538.53,1077.00 L537.55,1077.03 L536.58,1077.05 L535.60,1077.07 L534.63,1077.09 L533.66,1077.11 L532.68,1077.13 L531.71,1077.14 L530.75,1077.16 L529.78,1077.17 L528.81,1077.18 L527.85,1077.19 L526.88,1077.19 L525.92,1077.20 L524.96,1077.20 L524.00,1077.20 L523.04,1077.20 L522.08,1077.20 L521.12,1077.20 L520.17,1077.19 L519.21,1077.18 L518.26,1077.17 L517.31,1077.16 L516.36,1077.15 L515.41,1077.13 L514.46,1077.12 L513.52,1077.10 L512.57,1077.08 L511.63,1077.06 L510.68,1077.03 L509.74,1077.01 L508.80,1076.98 L507.86,1076.95 L506.92,1076.92 L505.99,1076.89 L505.05,1076.85 L504.12,1076.82 L503.19,1076.78 L502.26,1076.74 L501.33,1076.70 L500.40,1076.66 L499.47,1076.61 L498.54,1076.56 L497.62,1076.51 L496.70,1076.46 L495.77,1076.41 L494.85,1076.36 L493.93,1076.30 L493.02,1076.24 L492.10,1076.18 L491.18,1076.12 L490.27,1076.06 L489.36,1075.99 L488.45,1075.93 L487.54,1075.86 L486.63,1075.79 L485.72,1075.72 L484.82,1075.64 L483.91,1075.57 L483.01,1075.49 L482.11,1075.41 L481.21,1075.33 L480.31,1075.25 L479.41,1075.16 L478.51,1075.08 L477.62,1074.99 L476.73,1074.90 L475.84,1074.81 L474.94,1074.71 L474.06,1074.62 L473.17,1074.52 L472.28,1074.42 L471.40,1074.32 L470.51,1074.22 L469.63,1074.11 L468.75,1074.01 L467.87,1073.90 L467.00,1073.79 L466.12,1073.68 L465.24,1073.56 L464.37,1073.45 L463.50,1073.33 L462.63,1073.21 L461.76,1073.09 L460.89,1072.97 L460.03,1072.85 L459.16,1072.72 L458.30,1072.59 L457.44,1072.47 L456.58,1072.33 L455.72,1072.20 L454.86,1072.07 L454.01,1071.93 L453.15,1071.79 L452.30,1071.65 L451.45,1071.51 L450.60,1071.37 L449.75,1071.22 L448.91,1071.08 L448.06,1070.93 L447.22,1070.78 L446.38,1070.63 L445.54,1070.47 L444.70,1070.32 L443.86,1070.16 L443.03,1070.00 L442.19,1069.84 L441.36,1069.68 L440.53,1069.51 L439.70,1069.35 L438.87,1069.18 L438.04,1069.01 L437.22,1068.84 L436.39,1068.67 L435.57,1068.49 L434.75,1068.32 L433.93,1068.14 L433.12,1067.96 L432.30,1067.78 L431.49,1067.59 L430.68,1067.41 L429.86,1067.22 L429.06,1067.03 L428.25,1066.84 L427.44,1066.65 L426.64,1066.46 L425.84,1066.26 L425.03,1066.07 L424.23,1065.87 L423.44,1065.67 L422.64,1065.47 L421.85,1065.26 L421.05,1065.06 L420.26,1064.85 L419.47,1064.64 L418.68,1064.43 L417.90,1064.22 L417.11,1064.01 L416.33,1063.79 L415.55,1063.58 L414.77,1063.36 L413.99,1063.14 L413.21,1062.91 L412.44,1062.69 L411.66,1062.47 L410.89,1062.24 L410.12,1062.01 L409.35,1061.78 L408.59,1061.55 L407.82,1061.32 L407.06,1061.08 L406.30,1060.84 L405.54,1060.61 L404.78,1060.37 L404.02,1060.12 L403.27,1059.88 L402.51,1059.64 L401.76,1059.39 L401.01,1059.14 L400.26,1058.89 L399.52,1058.64 L398.77,1058.39 L398.03,1058.13 L397.29,1057.88 L396.55,1057.62 L395.81,1057.36 L395.07,1057.10 L394.34,1056.84 L393.61,1056.57 L392.88,1056.31 L392.15,1056.04 L391.42,1055.77 L390.69,1055.50 L389.97,1055.23 L389.25,1054.96 L388.53,1054.68 L387.81,1054.41 L387.09,1054.13 L386.37,1053.85 L385.66,1053.57 L384.95,1053.28 L384.24,1053.00 L383.53,1052.71 L382.82,1052.43 L382.12,1052.14 L381.42,1051.85 L380.72,1051.56 L380.02,1051.26 L379.32,1050.97 L378.62,1050.67 L377.93,1050.37 L377.24,1050.07 L376.55,1049.77 L375.86,1049.47 L375.17,1049.16 L374.49,1048.86 L373.80,1048.55 L373.12,1048.24 L372.44,1047.93 L371.76,1047.62 L371.09,1047.31 L370.41,1046.99 L369.74,1046.68 L369.07,1046.36 L368.40,1046.04 L367.73,1045.72 L367.07,1045.40 L366.41,1045.08 L365.74,1044.75 L365.09,1044.43 L364.43,1044.10 L363.77,1043.77 L363.12,1043.44 L362.47,1043.11 L361.81,1042.77 L361.17,1042.44 L360.52,1042.10 L359.87,1041.77 L359.23,1041.43 L358.59,1041.09 L357.95,1040.74 L357.31,1040.40 L356.68,1040.06 L356.05,1039.71 L355.41,1039.36 L354.78,1039.01 L354.16,1038.66 L353.53,1038.31 L352.91,1037.96 L352.28,1037.60 L351.66,1037.25 L351.04,1036.89 L350.43,1036.53 L349.81,1036.17 L349.20,1035.81 L348.59,1035.45 L347.98,1035.09 L347.37,1034.72 L346.77,1034.35 L346.16,1033.99 L345.56,1033.62 L344.96,1033.25 L344.37,1032.87 L343.77,1032.50 L343.18,1032.13 L342.58,1031.75 L341.99,1031.37 L341.41,1030.99 L340.82,1030.62 L340.24,1030.23 L339.65,1029.85 L339.07,1029.47 L338.50,1029.08 L337.92,1028.70 L337.35,1028.31 L336.77,1027.92 L336.20,1027.53 L335.63,1027.14 L335.07,1026.75 L334.50,1026.35 L333.94,1025.96 L333.38,1025.56 L332.82,1025.16 L332.26,1024.76 L331.71,1024.36 L331.16,1023.96 L330.61,1023.56 L330.06,1023.16 L329.51,1022.75 L328.96,1022.35 L328.42,1021.94 L327.88,1021.53 L327.34,1021.12 L326.80,1020.71 L326.27,1020.30 L325.74,1019.88 L325.21,1019.47 L324.68,1019.05 L324.15,1018.64 L323.62,1018.22 L323.10,1017.80 L322.58,1017.38 L322.06,1016.96 L321.54,1016.53 L321.03,1016.11 L320.52,1015.69 L320.01,1015.26 L319.50,1014.83 L318.99,1014.40 L318.48,1013.96 L317.98,1013.53 L317.48,1013.09 L316.98,1012.66 L316.48,1012.22 L315.99,1011.78 L315.50,1011.34 L315.01,1010.89 L314.52,1010.45 L314.03,1010.01 L313.55,1009.56 L313.06,1009.12 L312.58,1008.67 L312.10,1008.22 L311.63,1007.77 L311.15,1007.32 L310.68,1006.87 L310.21,1006.42 L309.74,1005.96 L309.28,1005.51 L308.81,1005.05 L308.35,1004.60 L307.89,1004.14 L307.43,1003.68 L306.98,1003.22 L306.52,1002.76 L306.07,1002.30 L305.62,1001.83 L305.17,1001.37 L304.73,1000.90 L304.28,1000.44 L303.84,999.97 L303.40,999.50 L302.96,999.03 L302.53,998.56 L302.10,998.09 L301.66,997.62 L301.24,997.15 L300.81,996.67 L300.38,996.20 L299.96,995.72 L299.54,995.25 L299.12,994.77 L298.71,994.29 L298.29,993.81 L297.88,993.33 L297.47,992.85 L297.06,992.36 L296.65,991.88 L296.25,991.40 L295.85,990.91 L295.45,990.42 L295.05,989.94 L294.66,989.45 L294.26,988.96 L293.87,988.47 L293.48,987.98 L293.10,987.49 L292.71,987.00 L292.33,986.50 L291.95,986.01 L291.57,985.51 L291.19,985.02 L290.82,984.52 L290.45,984.02 L290.08,983.52 L289.71,983.03 L289.34,982.52 L288.98,982.02 L288.62,981.52 L288.26,981.02 L287.90,980.52 L287.55,980.01 L287.19,979.51 L286.84,979.00 L286.49,978.49 L286.15,977.99 L285.80,977.48 L285.46,976.97 L285.12,976.46 L284.78,975.95 L284.45,975.44 L284.11,974.93 L283.78,974.41 L283.45,973.90 L283.13,973.38 L282.80,972.87 L282.48,972.35 L282.16,971.84 L281.84,971.32 L281.52,970.80 L281.21,970.28 L280.90,969.76 L280.59,969.24 L280.28,968.72 L279.97,968.20 L279.67,967.68 L279.37,967.15 L279.07,966.63 L278.77,966.11 L278.48,965.58 L278.18,965.06 L277.89,964.53 L277.61,964.00 L277.32,963.47 L277.04,962.95 L276.76,962.42 L276.48,961.89 L276.20,961.36 L275.92,960.83 L275.65,960.29 L275.38,959.76 L275.11,959.23 L274.84,958.70 L274.58,958.16 L274.32,957.63 L274.06,957.09 L273.80,956.56 L273.55,956.02 L273.29,955.48 L273.04,954.95 L272.79,954.41 L272.55,953.87 L272.30,953.33 L272.06,952.79 L271.82,952.25 L271.58,951.71 L271.35,951.17 L271.11,950.62 L270.88,950.08 L270.65,949.54 L270.43,949.00 L270.20,948.45 L269.98,947.91 L269.76,947.36 L269.54,946.82 L269.33,946.27 L269.11,945.72 L268.90,945.18 L268.69,944.63 L268.48,944.08 L268.28,943.53 L268.08,942.98 L267.88,942.43 L267.68,941.88 L267.48,941.33 L267.29,940.78 L267.10,940.23 L266.91,939.68 L266.72,939.13 L266.54,938.57 L266.35,938.02 L266.17,937.47 L266.00,936.91 L265.82,936.36 L265.65,935.81 L265.47,935.25 L265.31,934.69 L265.14,934.14 L264.97,933.58 L264.81,933.03 L264.65,932.47 L264.49,931.91 L264.34,931.35 L264.18,930.80 L264.03,930.24 L263.88,929.68 L263.74,929.12 L263.59,928.56 L263.45,928.00 L263.31,927.44 L263.17,926.88 L263.03,926.32 L262.90,925.76 L262.77,925.20 L262.64,924.64 L262.51,924.07 L262.39,923.51 L262.27,922.95 L262.15,922.39 L262.03,921.82 L261.91,921.26 L261.80,920.70 L261.69,920.13 L261.58,919.57 L261.47,919.01 L261.37,918.44 L261.27,917.88 L261.17,917.31 L261.07,916.75 L260.97,916.18 L260.88,915.62 L260.79,915.05 L260.70,914.48 L260.61,913.92 L260.53,913.35 L260.45,912.78 L260.37,912.22 L260.29,911.65 L260.22,911.08 L260.14,910.52 L260.07,909.95 L260.00,909.38 L259.94,908.81 L259.87,908.24 L259.81,907.68 L259.75,907.11 L259.69,906.54 L259.64,905.97 L259.59,905.40 L259.54,904.83 L259.49,904.26 L259.44,903.70 L259.40,903.13 L259.36,902.56 L259.32,901.99 L259.28,901.42 L259.24,900.85 L259.21,900.28 L259.18,899.71 L259.15,899.14 L259.13,898.57 L259.10,898.00 L259.08,897.43 L259.06,896.86 L259.05,896.29 L259.03,895.72 L259.02,895.15 L259.01,894.58 L259.00,894.01 L259.00,893.44 L258.99,892.87 L258.99,892.30 Z" fill="none" stroke="#6f7275" stroke-width="4.4" stroke-dasharray="3 9.8"/>
<rect x="162.5" y="687.5" width="1357.80" height="410.60" fill="none" stroke="#929a9f" stroke-width="1.3"/><path d="M189.90,1098.10v-10.7M189.90,687.50v10.7M515.80,1098.10v-10.7M515.80,687.50v10.7M841.70,1098.10v-10.7M841.70,687.50v10.7M1167.60,1098.10v-10.7M1167.60,687.50v10.7M1493.50,1098.10v-10.7M1493.50,687.50v10.7M255.08,1098.10v-6.7M255.08,687.50v6.7M320.26,1098.10v-6.7M320.26,687.50v6.7M385.44,1098.10v-6.7M385.44,687.50v6.7M450.62,1098.10v-6.7M450.62,687.50v6.7M580.98,1098.10v-6.7M580.98,687.50v6.7M646.16,1098.10v-6.7M646.16,687.50v6.7M711.34,1098.10v-6.7M711.34,687.50v6.7M776.52,1098.10v-6.7M776.52,687.50v6.7M906.88,1098.10v-6.7M906.88,687.50v6.7M972.06,1098.10v-6.7M972.06,687.50v6.7M1037.24,1098.10v-6.7M1037.24,687.50v6.7M1102.42,1098.10v-6.7M1102.42,687.50v6.7M1232.78,1098.10v-6.7M1232.78,687.50v6.7M1297.96,1098.10v-6.7M1297.96,687.50v6.7M1363.14,1098.10v-6.7M1363.14,687.50v6.7M1428.32,1098.10v-6.7M1428.32,687.50v6.7M162.50,1074.52h10.7M1520.30,1074.52h-10.7M162.50,1013.78h10.7M1520.30,1013.78h-10.7M162.50,953.04h10.7M1520.30,953.04h-10.7M162.50,892.30h10.7M1520.30,892.30h-10.7M162.50,831.56h10.7M1520.30,831.56h-10.7M162.50,770.82h10.7M1520.30,770.82h-10.7M162.50,710.08h10.7M1520.30,710.08h-10.7M162.50,1089.70h6.7M1520.30,1089.70h-6.7M162.50,1059.34h6.7M1520.30,1059.34h-6.7M162.50,1044.15h6.7M1520.30,1044.15h-6.7M162.50,1028.96h6.7M1520.30,1028.96h-6.7M162.50,998.59h6.7M1520.30,998.59h-6.7M162.50,983.41h6.7M1520.30,983.41h-6.7M162.50,968.22h6.7M1520.30,968.22h-6.7M162.50,937.85h6.7M1520.30,937.85h-6.7M162.50,922.67h6.7M1520.30,922.67h-6.7M162.50,907.48h6.7M1520.30,907.48h-6.7M162.50,877.12h6.7M1520.30,877.12h-6.7M162.50,861.93h6.7M1520.30,861.93h-6.7M162.50,846.75h6.7M1520.30,846.75h-6.7M162.50,816.38h6.7M1520.30,816.38h-6.7M162.50,801.19h6.7M1520.30,801.19h-6.7M162.50,786.00h6.7M1520.30,786.00h-6.7M162.50,755.63h6.7M1520.30,755.63h-6.7M162.50,740.45h6.7M1520.30,740.45h-6.7M162.50,725.26h6.7M1520.30,725.26h-6.7M162.50,694.89h6.7M1520.30,694.89h-6.7" stroke="#929a9f" stroke-width="1.2" fill="none"/>
<text transform="translate(112.73,1086.76) scale(0.9300,1)" font-size="42.0" fill="#606366">−6</text>
<text transform="translate(112.15,1026.02) scale(0.9300,1)" font-size="42.0" fill="#606366">−4</text>
<text transform="translate(113.02,965.49) scale(0.9300,1)" font-size="42.0" fill="#606366">−2</text>
<text transform="translate(134.3,904.54) scale(0.9800,1)" font-size="42.0" fill="#606366">0</text>
<text transform="translate(134.81,844.01) scale(0.9800,1)" font-size="42.0" fill="#606366">2</text>
<text transform="translate(133.89,783.06) scale(0.9800,1)" font-size="42.0" fill="#606366">4</text>
<text transform="translate(134.51,722.32) scale(0.9800,1)" font-size="42.0" fill="#606366">6</text>
<text transform="translate(136.77,1139.5) scale(0.8330,1)" font-size="42.0" fill="#606366">−1000</text>
<text transform="translate(473.27,1139.5) scale(0.8500,1)" font-size="42.0" fill="#606366">−500</text>
<text transform="translate(830.76,1139.5) scale(0.9600,1)" font-size="42.0" fill="#606366">0</text>
<text transform="translate(1135.38,1139.5) scale(0.8360,1)" font-size="42.0" fill="#606366">500</text>
<text transform="translate(1453.43,1139.5) scale(0.8000,1)" font-size="42.0" fill="#606366">1000</text>
<text transform="translate(788.63,1192.6) scale(1.1178,1)" font-size="41.90" fill="#606366">z</text>
<text transform="translate(818.63,1191.81) scale(0.7993,1)" font-size="36.35" fill="#606366" stroke="#606366" stroke-width="0.5" stroke-linejoin="round">(</text>
<text transform="translate(831.13,1192.11) scale(0.9983,1)" font-size="36.81" font-style="italic" fill="#606366">μ</text>
<text transform="translate(850.17,1192.6) scale(0.9911,1)" font-size="42.23" fill="#606366">m</text>
<text transform="translate(882.03,1191.81) scale(0.7993,1)" font-size="36.35" fill="#606366" stroke="#606366" stroke-width="0.5" stroke-linejoin="round">)</text>
<text transform="translate(93.3,941.99) rotate(-90) scale(0.9175,1)" font-size="40.95" fill="#606366">y</text>
<text transform="translate(93.02,917.6) rotate(-90) scale(0.9078,1)" font-size="37.00" fill="#606366">(</text>
<text transform="translate(93.13,903.59) rotate(-90) scale(0.9989,1)" font-size="35.69" font-style="italic" fill="#606366">μ</text>
<text transform="translate(93.3,883.36) rotate(-90) scale(1.0359,1)" font-size="39.44" fill="#606366">m</text>
<text transform="translate(92.88,852.27) rotate(-90) scale(0.7969,1)" font-size="36.46" fill="#606366" stroke="#606366" stroke-width="0.5" stroke-linejoin="round">)</text>
<defs><filter id="sh" x="-20%" y="-20%" width="140%" height="140%"><feGaussianBlur in="SourceAlpha" stdDeviation="7.5"/><feOffset dx="9" dy="10" result="o"/><feComponentTransfer><feFuncA type="linear" slope="0.7"/></feComponentTransfer><feMerge><feMergeNode/><feMergeNode in="SourceGraphic"/></feMerge></filter></defs>
<rect x="1127.8" y="832.3" width="370.6" height="243.0" fill="#fff" stroke="#e6e6e6" stroke-width="1" filter="url(#sh)"/>
<line x1="1151.6" y1="888.9" x2="1259" y2="888.9" stroke="#6f6f6f" stroke-width="4"/>
<line x1="1151.6" y1="951.8" x2="1256" y2="951.8" stroke="#737373" stroke-width="4.3" stroke-dasharray="13 9.5"/>
<line x1="1152" y1="1014.1" x2="1256" y2="1014.1" stroke="#858585" stroke-width="3.6" stroke-dasharray="3 11"/>
<text transform="translate(1276.72,897.8)" font-size="36.95" font-style="italic" fill="#1e1e1e">I</text>
<text transform="translate(1287.78,904.63) scale(0.9752,1)" font-size="26.87" fill="#1e1e1e">sat</text>
<text transform="translate(1337.74,900.08) scale(0.9451,1)" font-size="36.90" fill="#1e1e1e">=</text>
<text transform="translate(1367.3,897.44) scale(0.9733,1)" font-size="35.90" fill="#1e1e1e">0.9</text>
<text transform="translate(1415.42,897.8)" font-size="36.95" font-style="italic" fill="#1e1e1e">I</text>
<text transform="translate(1426.32,904.64) scale(0.9525,1)" font-size="25.72" fill="#1e1e1e">0</text>
<text transform="translate(1276.72,960.7)" font-size="36.95" font-style="italic" fill="#1e1e1e">I</text>
<text transform="translate(1287.78,967.53) scale(0.9752,1)" font-size="26.87" fill="#1e1e1e">sat</text>
<text transform="translate(1337.74,962.98) scale(0.9451,1)" font-size="36.90" fill="#1e1e1e">=</text>
<text transform="translate(1367.31,960.34) scale(0.9696,1)" font-size="35.90" fill="#1e1e1e">0.5</text>
<text transform="translate(1415.42,960.7)" font-size="36.95" font-style="italic" fill="#1e1e1e">I</text>
<text transform="translate(1426.32,967.54) scale(0.9525,1)" font-size="25.72" fill="#1e1e1e">0</text>
<text transform="translate(1276.72,1023)" font-size="36.95" font-style="italic" fill="#1e1e1e">I</text>
<text transform="translate(1287.78,1029.83) scale(0.9752,1)" font-size="26.87" fill="#1e1e1e">sat</text>
<text transform="translate(1337.74,1025.28) scale(0.9451,1)" font-size="36.90" fill="#1e1e1e">=</text>
<text transform="translate(1367.3,1022.64) scale(0.9752,1)" font-size="35.90" fill="#1e1e1e">0.1</text>
<text transform="translate(1415.42,1023)" font-size="36.95" font-style="italic" fill="#1e1e1e">I</text>
<text transform="translate(1426.32,1029.84) scale(0.9525,1)" font-size="25.72" fill="#1e1e1e">0</text>
<text transform="translate(2.37,1226.15) scale(0.9537,1)" font-size="45.11" fill="#231f20">c</text>
<text transform="translate(26.04,1222.75) scale(0.8141,1)" font-size="43.11" fill="#231f20" stroke="#231f20" stroke-width="0.6" stroke-linejoin="round">)</text>
<path d="M196.00,1255.75 L200.09,1255.82 L204.17,1255.89 L208.26,1255.99 L212.35,1256.09 L216.44,1256.21 L220.52,1256.35 L224.61,1256.49 L228.70,1256.65 L232.78,1256.83 L236.87,1257.01 L240.96,1257.21 L245.05,1257.42 L249.13,1257.65 L253.22,1257.88 L257.31,1258.13 L261.39,1258.39 L265.48,1258.67 L269.57,1258.95 L273.66,1259.25 L277.74,1259.56 L281.83,1259.88 L285.92,1260.21 L290.00,1260.56 L294.09,1260.92 L298.18,1261.28 L302.27,1261.66 L306.35,1262.06 L310.44,1262.46 L314.53,1262.87 L318.61,1263.29 L322.70,1263.73 L326.79,1264.18 L330.88,1264.63 L334.96,1265.10 L339.05,1265.58 L343.14,1266.07 L347.22,1266.56 L351.31,1267.07 L355.40,1267.59 L359.49,1268.12 L363.57,1268.66 L367.66,1269.21 L371.75,1269.77 L375.83,1270.33 L379.92,1270.91 L384.01,1271.50 L388.10,1272.09 L392.18,1272.70 L396.27,1273.31 L400.36,1273.94 L404.44,1274.57 L408.53,1275.21 L412.62,1275.86 L416.71,1276.52 L420.79,1277.19 L424.88,1277.86 L428.97,1278.55 L433.05,1279.24 L437.14,1279.94 L441.23,1280.65 L445.32,1281.37 L449.40,1282.09 L453.49,1282.82 L457.58,1283.56 L461.66,1284.31 L465.75,1285.06 L469.84,1285.83 L473.93,1286.60 L478.01,1287.37 L482.10,1288.16 L486.19,1288.95 L490.27,1289.74 L494.36,1290.55 L498.45,1291.36 L502.54,1292.18 L506.62,1293.00 L510.71,1293.83 L514.80,1294.67 L518.88,1295.51 L522.97,1296.36 L527.06,1297.22 L531.15,1298.08 L535.23,1298.94 L539.32,1299.81 L543.41,1300.69 L547.49,1301.58 L551.58,1302.47 L555.67,1303.36 L559.76,1304.26 L563.84,1305.16 L567.93,1306.07 L572.02,1306.99 L576.10,1307.91 L580.19,1308.83 L584.28,1309.76 L588.37,1310.69 L592.45,1311.63 L596.54,1312.57 L600.63,1313.52 L604.71,1314.47 L608.80,1315.42 L612.89,1316.38 L616.98,1317.34 L621.06,1318.31 L625.15,1319.28 L629.24,1320.25 L633.32,1321.22 L637.41,1322.20 L641.50,1323.19 L645.59,1324.17 L649.67,1325.16 L653.76,1326.15 L657.85,1327.15 L661.93,1328.15 L666.02,1329.15 L670.11,1330.15 L674.20,1331.15 L678.28,1332.16 L682.37,1333.17 L686.46,1334.18 L690.54,1335.20 L694.63,1336.21 L698.72,1337.23 L702.81,1338.25 L706.89,1339.27 L710.98,1340.29 L715.07,1341.32 L719.15,1342.34 L723.24,1343.37 L727.33,1344.40 L731.42,1345.43 L735.50,1346.46 L739.59,1347.49 L743.68,1348.52 L747.76,1349.55 L751.85,1350.59 L755.94,1351.62 L760.03,1352.65 L764.11,1353.69 L768.20,1354.72 L772.29,1355.76 L776.37,1356.79 L780.46,1357.83 L784.55,1358.86 L788.64,1359.90 L792.72,1360.93 L796.81,1361.97 L800.90,1363.00 L804.98,1364.04 L809.07,1365.07 L813.16,1366.10 L817.25,1367.14 L821.33,1368.17 L825.42,1369.20 L829.51,1370.24 L833.59,1371.27 L837.68,1372.30 L841.77,1373.34 L845.86,1374.37 L849.94,1375.40 L854.03,1376.43 L858.12,1377.46 L862.21,1378.49 L866.29,1379.52 L870.38,1380.55 L874.47,1381.58 L878.55,1382.60 L882.64,1383.63 L886.73,1384.66 L890.82,1385.68 L894.90,1386.71 L898.99,1387.73 L903.08,1388.76 L907.16,1389.78 L911.25,1390.80 L915.34,1391.82 L919.43,1392.84 L923.51,1393.86 L927.60,1394.88 L931.69,1395.90 L935.77,1396.92 L939.86,1397.93 L943.95,1398.95 L948.04,1399.96 L952.12,1400.97 L956.21,1401.99 L960.30,1403.00 L964.38,1404.00 L968.47,1405.01 L972.56,1406.02 L976.65,1407.03 L980.73,1408.03 L984.82,1409.03 L988.91,1410.04 L992.99,1411.04 L997.08,1412.03 L1001.17,1413.03 L1005.26,1414.03 L1009.34,1415.02 L1013.43,1416.02 L1017.52,1417.01 L1021.60,1418.00 L1025.69,1418.99 L1029.78,1419.98 L1033.87,1420.96 L1037.95,1421.95 L1042.04,1422.93 L1046.13,1423.91 L1050.21,1424.89 L1054.30,1425.87 L1058.39,1426.84 L1062.48,1427.82 L1066.56,1428.79 L1070.65,1429.76 L1074.74,1430.73 L1078.82,1431.69 L1082.91,1432.66 L1087.00,1433.62 L1091.09,1434.58 L1095.17,1435.54 L1099.26,1436.50 L1103.35,1437.45 L1107.43,1438.40 L1111.52,1439.35 L1115.61,1440.30 L1119.70,1441.25 L1123.78,1442.19 L1127.87,1443.13 L1131.96,1444.07 L1136.04,1445.01 L1140.13,1445.95 L1144.22,1446.88 L1148.31,1447.81 L1152.39,1448.74 L1156.48,1449.66 L1160.57,1450.59 L1164.65,1451.51 L1168.74,1452.43 L1172.83,1453.34 L1176.92,1454.26 L1181.00,1455.17 L1185.09,1456.07 L1189.18,1456.98 L1193.26,1457.88 L1197.35,1458.78 L1201.44,1459.68 L1205.53,1460.58 L1209.61,1461.47 L1213.70,1462.36 L1217.79,1463.24 L1221.87,1464.13 L1225.96,1465.01 L1230.05,1465.89 L1234.14,1466.76 L1238.22,1467.64 L1242.31,1468.51 L1246.40,1469.37 L1250.48,1470.24 L1254.57,1471.10 L1258.66,1471.95 L1262.75,1472.81 L1266.83,1473.66 L1270.92,1474.51 L1275.01,1475.35 L1279.09,1476.19 L1283.18,1477.03 L1287.27,1477.87 L1291.36,1478.70 L1295.44,1479.53 L1299.53,1480.36 L1303.62,1481.18 L1307.70,1482.00 L1311.79,1482.81 L1315.88,1483.62 L1319.97,1484.43 L1324.05,1485.24 L1328.14,1486.04 L1332.23,1486.84 L1336.31,1487.63 L1340.40,1488.42 L1344.49,1489.21 L1348.58,1490.00 L1352.66,1490.78 L1356.75,1491.55 L1360.84,1492.32 L1364.92,1493.09 L1369.01,1493.86 L1373.10,1494.62 L1377.19,1495.38 L1381.27,1496.13 L1385.36,1496.88 L1389.45,1497.63 L1393.53,1498.37 L1397.62,1499.11 L1401.71,1499.84 L1405.80,1500.57 L1409.88,1501.30 L1413.97,1502.02 L1418.06,1502.74 L1422.14,1503.45 L1426.23,1504.16 L1430.32,1504.87 L1434.41,1505.57 L1438.49,1506.27 L1442.58,1506.96 L1446.67,1507.65 L1450.75,1508.34 L1454.84,1509.02 L1458.93,1509.69 L1463.02,1510.36 L1467.10,1511.03 L1471.19,1511.69 L1475.28,1512.35 L1479.36,1513.01 L1483.45,1513.66 L1487.54,1514.30 L1491.63,1514.94 L1495.71,1515.58 L1499.80,1516.21" fill="none" stroke="#000" stroke-width="2.1"/>
<line x1="193.2" y1="1255.9" x2="197" y2="1255.9" stroke="#000" stroke-width="5.2"/>
<path d="M196.00,1255.85 L200.09,1256.08 L204.18,1256.36 L208.27,1256.67 L212.36,1257.03 L216.45,1257.42 L220.54,1257.85 L224.63,1258.32 L228.71,1258.83 L232.80,1259.37 L236.89,1259.95 L240.98,1260.56 L245.07,1261.21 L249.16,1261.89 L253.25,1262.61 L257.34,1263.36 L261.43,1264.15 L265.52,1264.96 L269.61,1265.81 L273.70,1266.69 L277.79,1267.61 L281.88,1268.55 L285.97,1269.52 L290.05,1270.53 L294.14,1271.56 L298.23,1272.62 L302.32,1273.71 L306.41,1274.83 L310.50,1275.97 L314.59,1277.15 L318.68,1278.34 L322.77,1279.57 L326.86,1280.82 L330.95,1282.09 L335.04,1283.39 L339.13,1284.72 L343.22,1286.07 L347.31,1287.44 L351.39,1288.83 L355.48,1290.24 L359.57,1291.68 L363.66,1293.14 L367.75,1294.62 L371.84,1296.12 L375.93,1297.63 L380.02,1299.17 L384.11,1300.73 L388.20,1302.30 L392.29,1303.90 L396.38,1305.51 L400.47,1307.13 L404.56,1308.78 L408.65,1310.44 L412.74,1312.11 L416.82,1313.80 L420.91,1315.50 L425.00,1317.22 L429.09,1318.95 L433.18,1320.70 L437.27,1322.45 L441.36,1324.22 L445.45,1326.00 L449.54,1327.80 L453.63,1329.60 L457.72,1331.41 L461.81,1333.23 L465.90,1335.06 L469.99,1336.90 L474.08,1338.75 L478.16,1340.61 L482.25,1342.47 L486.34,1344.34 L490.43,1346.22 L494.52,1348.10 L498.61,1349.99 L502.70,1351.88 L506.79,1353.77 L510.88,1355.67 L514.97,1357.58 L519.06,1359.49 L523.15,1361.39 L527.24,1363.31 L531.33,1365.22 L535.42,1367.13 L539.50,1369.05 L543.59,1370.96 L547.68,1372.87 L551.77,1374.79 L555.86,1376.70 L559.95,1378.61 L564.04,1380.51 L568.13,1382.42 L572.22,1384.32 L576.31,1386.22 L580.40,1388.11 L584.49,1390.00 L588.58,1391.88 L592.67,1393.76 L596.76,1395.63 L600.84,1397.50 L604.93,1399.36 L609.02,1401.22 L613.11,1403.07 L617.20,1404.92 L621.29,1406.76 L625.38,1408.60 L629.47,1410.43 L633.56,1412.25 L637.65,1414.07 L641.74,1415.89 L645.83,1417.69 L649.92,1419.49 L654.01,1421.29 L658.10,1423.08 L662.18,1424.86 L666.27,1426.64 L670.36,1428.41 L674.45,1430.17 L678.54,1431.93 L682.63,1433.68 L686.72,1435.42 L690.81,1437.15 L694.90,1438.88 L698.99,1440.60 L703.08,1442.32 L707.17,1444.03 L711.26,1445.73 L715.35,1447.42 L719.44,1449.11 L723.53,1450.78 L727.61,1452.45 L731.70,1454.12 L735.79,1455.77 L739.88,1457.42 L743.97,1459.05 L748.06,1460.69 L752.15,1462.31 L756.24,1463.92 L760.33,1465.53 L764.42,1467.13 L768.51,1468.71 L772.60,1470.29 L776.69,1471.87 L780.78,1473.43 L784.87,1474.98 L788.95,1476.53 L793.04,1478.06 L797.13,1479.59 L801.22,1481.11 L805.31,1482.62 L809.40,1484.12 L813.49,1485.61 L817.58,1487.09 L821.67,1488.56 L825.76,1490.02 L829.85,1491.47 L833.94,1492.91 L838.03,1494.35 L842.12,1495.77 L846.21,1497.18 L850.29,1498.58 L854.38,1499.97 L858.47,1501.35 L862.56,1502.73 L866.65,1504.09 L870.74,1505.44 L874.83,1506.77 L878.92,1508.10 L883.01,1509.42 L887.10,1510.73 L891.19,1512.02 L895.28,1513.31 L899.37,1514.58 L903.46,1515.84 L907.55,1517.09 L911.63,1518.33 L915.72,1519.56 L919.81,1520.78 L923.90,1521.98 L927.99,1523.17 L932.08,1524.36 L936.17,1525.52 L940.26,1526.68 L944.35,1527.83 L948.44,1528.96 L952.53,1530.08 L956.62,1531.19 L960.71,1532.28 L964.80,1533.37 L968.89,1534.44 L972.97,1535.50 L977.06,1536.55 L981.15,1537.58 L985.24,1538.61 L989.33,1539.62 L993.42,1540.62 L997.51,1541.61 L1001.60,1542.59 L1005.69,1543.56 L1009.78,1544.51 L1013.87,1545.45 L1017.96,1546.39 L1022.05,1547.31 L1026.14,1548.22 L1030.23,1549.12 L1034.32,1550.01 L1038.40,1550.89 L1042.49,1551.76 L1046.58,1552.61 L1050.67,1553.46 L1054.76,1554.30 L1058.85,1555.12 L1062.94,1555.94 L1067.03,1556.75 L1071.12,1557.54 L1075.21,1558.33 L1079.30,1559.10 L1083.39,1559.87 L1087.48,1560.63 L1091.57,1561.37 L1095.66,1562.11 L1099.74,1562.84 L1103.83,1563.56 L1107.92,1564.27 L1112.01,1564.97 L1116.10,1565.66 L1120.19,1566.34 L1124.28,1567.01 L1128.37,1567.68 L1132.46,1568.33 L1136.55,1568.98 L1140.64,1569.61 L1144.73,1570.24 L1148.82,1570.86 L1152.91,1571.48 L1157.00,1572.08 L1161.08,1572.68 L1165.17,1573.26 L1169.26,1573.84 L1173.35,1574.41 L1177.44,1574.98 L1181.53,1575.53 L1185.62,1576.08 L1189.71,1576.62 L1193.80,1577.15 L1197.89,1577.68 L1201.98,1578.20 L1206.07,1578.71 L1210.16,1579.21 L1214.25,1579.71 L1218.34,1580.20 L1222.42,1580.68 L1226.51,1581.15 L1230.60,1581.62 L1234.69,1582.08 L1238.78,1582.54 L1242.87,1582.99 L1246.96,1583.43 L1251.05,1583.86 L1255.14,1584.29 L1259.23,1584.71 L1263.32,1585.13 L1267.41,1585.54 L1271.50,1585.95 L1275.59,1586.34 L1279.68,1586.74 L1283.76,1587.12 L1287.85,1587.50 L1291.94,1587.88 L1296.03,1588.25 L1300.12,1588.61 L1304.21,1588.97 L1308.30,1589.33 L1312.39,1589.68 L1316.48,1590.02 L1320.57,1590.36 L1324.66,1590.69 L1328.75,1591.02 L1332.84,1591.34 L1336.93,1591.66 L1341.02,1591.98 L1345.11,1592.29 L1349.19,1592.59 L1353.28,1592.90 L1357.37,1593.19 L1361.46,1593.48 L1365.55,1593.77 L1369.64,1594.06 L1373.73,1594.34 L1377.82,1594.62 L1381.91,1594.89 L1386.00,1595.16 L1390.09,1595.42 L1394.18,1595.69 L1398.27,1595.94 L1402.36,1596.20 L1406.45,1596.45 L1410.53,1596.70 L1414.62,1596.95 L1418.71,1597.19 L1422.80,1597.43 L1426.89,1597.66 L1430.98,1597.90 L1435.07,1598.13 L1439.16,1598.36 L1443.25,1598.58 L1447.34,1598.81 L1451.43,1599.03 L1455.52,1599.25 L1459.61,1599.46 L1463.70,1599.68 L1467.79,1599.89 L1471.87,1600.10 L1475.96,1600.31 L1480.05,1600.52 L1484.14,1600.72 L1488.23,1600.92 L1492.32,1601.13 L1496.41,1601.33 L1500.50,1601.52" fill="none" stroke="#000" stroke-width="5.2" stroke-dasharray="10.7 9.5"/>
<rect x="168.5" y="1235.3" width="1358.10" height="407.00" fill="none" stroke="#929a9f" stroke-width="1.3"/><path d="M196.00,1642.30v-9.0M196.00,1235.30v9.0M382.15,1642.30v-9.0M382.15,1235.30v9.0M568.30,1642.30v-9.0M568.30,1235.30v9.0M754.45,1642.30v-9.0M754.45,1235.30v9.0M940.60,1642.30v-9.0M940.60,1235.30v9.0M1126.75,1642.30v-9.0M1126.75,1235.30v9.0M1312.90,1642.30v-9.0M1312.90,1235.30v9.0M1499.05,1642.30v-9.0M1499.05,1235.30v9.0M233.23,1642.30v-5.2M233.23,1235.30v5.2M270.46,1642.30v-5.2M270.46,1235.30v5.2M307.69,1642.30v-5.2M307.69,1235.30v5.2M344.92,1642.30v-5.2M344.92,1235.30v5.2M419.38,1642.30v-5.2M419.38,1235.30v5.2M456.61,1642.30v-5.2M456.61,1235.30v5.2M493.84,1642.30v-5.2M493.84,1235.30v5.2M531.07,1642.30v-5.2M531.07,1235.30v5.2M605.53,1642.30v-5.2M605.53,1235.30v5.2M642.76,1642.30v-5.2M642.76,1235.30v5.2M679.99,1642.30v-5.2M679.99,1235.30v5.2M717.22,1642.30v-5.2M717.22,1235.30v5.2M791.68,1642.30v-5.2M791.68,1235.30v5.2M828.91,1642.30v-5.2M828.91,1235.30v5.2M866.14,1642.30v-5.2M866.14,1235.30v5.2M903.37,1642.30v-5.2M903.37,1235.30v5.2M977.83,1642.30v-5.2M977.83,1235.30v5.2M1015.06,1642.30v-5.2M1015.06,1235.30v5.2M1052.29,1642.30v-5.2M1052.29,1235.30v5.2M1089.52,1642.30v-5.2M1089.52,1235.30v5.2M1163.98,1642.30v-5.2M1163.98,1235.30v5.2M1201.21,1642.30v-5.2M1201.21,1235.30v5.2M1238.44,1642.30v-5.2M1238.44,1235.30v5.2M1275.67,1642.30v-5.2M1275.67,1235.30v5.2M1350.13,1642.30v-5.2M1350.13,1235.30v5.2M1387.36,1642.30v-5.2M1387.36,1235.30v5.2M1424.59,1642.30v-5.2M1424.59,1235.30v5.2M1461.82,1642.30v-5.2M1461.82,1235.30v5.2M168.50,1634.50h9.0M1526.60,1634.50h-9.0M168.50,1539.58h9.0M1526.60,1539.58h-9.0M168.50,1444.66h9.0M1526.60,1444.66h-9.0M168.50,1349.74h9.0M1526.60,1349.74h-9.0M168.50,1254.82h9.0M1526.60,1254.82h-9.0M168.50,1610.77h5.2M1526.60,1610.77h-5.2M168.50,1587.04h5.2M1526.60,1587.04h-5.2M168.50,1563.31h5.2M1526.60,1563.31h-5.2M168.50,1515.85h5.2M1526.60,1515.85h-5.2M168.50,1492.12h5.2M1526.60,1492.12h-5.2M168.50,1468.39h5.2M1526.60,1468.39h-5.2M168.50,1420.93h5.2M1526.60,1420.93h-5.2M168.50,1397.20h5.2M1526.60,1397.20h-5.2M168.50,1373.47h5.2M1526.60,1373.47h-5.2M168.50,1326.01h5.2M1526.60,1326.01h-5.2M168.50,1302.28h5.2M1526.60,1302.28h-5.2M168.50,1278.55h5.2M1526.60,1278.55h-5.2" stroke="#929a9f" stroke-width="1.2" fill="none"/>
<text transform="translate(110.24,1645.44) scale(0.8900,1)" font-size="42.0" fill="#606366">0.0</text>
<text transform="translate(110.71,1550.52) scale(0.8900,1)" font-size="42.0" fill="#606366">0.2</text>
<text transform="translate(109.87,1455.6) scale(0.8900,1)" font-size="42.0" fill="#606366">0.4</text>
<text transform="translate(110.43,1360.68) scale(0.8900,1)" font-size="42.0" fill="#606366">0.6</text>
<text transform="translate(110.43,1265.76) scale(0.8900,1)" font-size="42.0" fill="#606366">0.8</text>
<text transform="translate(184.76,1682.1) scale(0.9600,1)" font-size="42.0" fill="#606366">0</text>
<text transform="translate(370.81,1681.67) scale(0.9600,1)" font-size="42.0" fill="#606366">5</text>
<text transform="translate(547.87,1682.1) scale(0.8850,1)" font-size="42.0" fill="#606366">10</text>
<text transform="translate(735.62,1681.67) scale(0.8850,1)" font-size="42.0" fill="#606366">15</text>
<text transform="translate(919.94,1682.1) scale(0.8850,1)" font-size="42.0" fill="#606366">20</text>
<text transform="translate(1106.43,1682.1) scale(0.8850,1)" font-size="42.0" fill="#606366">25</text>
<text transform="translate(1292.77,1682.1) scale(0.8850,1)" font-size="42.0" fill="#606366">30</text>
<text transform="translate(1478.97,1682.1) scale(0.8850,1)" font-size="42.0" fill="#606366">35</text>
<text transform="translate(805.09,1737.27) scale(0.9057,1)" font-size="44.60" fill="#606366">t</text>
<text transform="translate(827.89,1735.93) scale(0.8322,1)" font-size="36.73" fill="#606366" stroke="#606366" stroke-width="0.4" stroke-linejoin="round">(</text>
<text transform="translate(839.21,1737.18) scale(0.8849,1)" font-size="41.64" fill="#606366">ns</text>
<text transform="translate(877.55,1736.04) scale(0.8835,1)" font-size="37.16" fill="#606366">)</text>
<text transform="translate(86.79,1484.65) rotate(-90) scale(1.1346,1)" font-size="40.54" fill="#606366">d</text>
<text transform="translate(88.49,1456.12) rotate(-90) scale(0.9260,1)" font-size="36.68" fill="#606366">(</text>
<text transform="translate(86.79,1439.36) rotate(-90) scale(1.0314,1)" font-size="40.54" font-style="italic" fill="#606366">d</text>
<text transform="translate(95.78,1421.32) rotate(-90) scale(0.8746,1)" font-size="32.08" fill="#606366">0</text>
<text transform="translate(88.35,1404.96) rotate(-90) scale(0.7831,1)" font-size="36.14" fill="#606366" stroke="#606366" stroke-width="0.5" stroke-linejoin="round">)</text>
<rect x="1221.2" y="1281.9" width="228.2" height="147.7" fill="#fff" stroke="#e6e6e6" stroke-width="1" filter="url(#sh)"/>
<line x1="1238.3" y1="1327.2" x2="1344" y2="1327.2" stroke="#1a1a1a" stroke-width="3.6"/>
<line x1="1238.3" y1="1387.4" x2="1340" y2="1387.4" stroke="#1a1a1a" stroke-width="3.6" stroke-dasharray="11 11"/>
<text transform="translate(1360.22,1336.6) scale(0.9369,1)" font-size="35.93" fill="#1e1e1e">HBr</text>
<text transform="translate(1360.15,1395.77) scale(1.0551,1)" font-size="32.79" fill="#1e1e1e">HCl</text></svg>
</body></html>
